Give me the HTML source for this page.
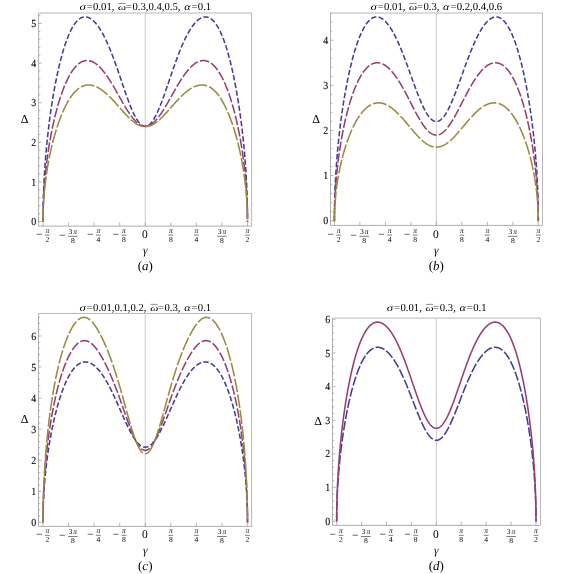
<!DOCTYPE html>
<html><head><meta charset="utf-8"><title>Figure</title>
<style>
html,body{margin:0;padding:0;background:#fff;}
svg{display:block;font-family:"Liberation Serif",serif;fill:#000;will-change:transform;text-rendering:geometricPrecision;}
text{stroke:none;} .tk{stroke:#000;stroke-width:0.1px;}
</style></head><body>
<svg width="564" height="574" viewBox="0 0 564 574">
<rect width="564" height="574" fill="#fff"/>
<path d="M38.6,13.0 H251.6 V226.1" fill="none" stroke="#b8b8b8" stroke-width="1"/>
<line x1="145.25" y1="13.0" x2="145.25" y2="226.1" stroke="#bfbfbf" stroke-width="0.8"/>
<path d="M38.6,13.0 V226.1 H251.6" fill="none" stroke="#aeaeae" stroke-width="1"/>
<text transform="translate(36.30,225.25) scale(0.9,1)" class="tk" font-size="11.0" text-anchor="end">0</text>
<text transform="translate(36.30,185.62) scale(0.9,1)" class="tk" font-size="11.0" text-anchor="end">1</text>
<text transform="translate(36.30,145.99) scale(0.9,1)" class="tk" font-size="11.0" text-anchor="end">2</text>
<text transform="translate(36.30,106.36) scale(0.9,1)" class="tk" font-size="11.0" text-anchor="end">3</text>
<text transform="translate(36.30,66.73) scale(0.9,1)" class="tk" font-size="11.0" text-anchor="end">4</text>
<text transform="translate(36.30,27.10) scale(0.9,1)" class="tk" font-size="11.0" text-anchor="end">5</text>
<path d="M38.6,221.60h3.1 M38.6,213.67h1.8 M38.6,205.75h1.8 M38.6,197.82h1.8 M38.6,189.90h1.8 M38.6,181.97h3.1 M38.6,174.04h1.8 M38.6,166.12h1.8 M38.6,158.19h1.8 M38.6,150.27h1.8 M38.6,142.34h3.1 M38.6,134.41h1.8 M38.6,126.49h1.8 M38.6,118.56h1.8 M38.6,110.64h1.8 M38.6,102.71h3.1 M38.6,94.78h1.8 M38.6,86.86h1.8 M38.6,78.93h1.8 M38.6,71.01h1.8 M38.6,63.08h3.1 M38.6,55.15h1.8 M38.6,47.23h1.8 M38.6,39.30h1.8 M38.6,31.38h1.8 M38.6,23.45h3.1 M38.6,15.52h1.8 M43.01,226.1v-3.6 M68.57,226.1v-3.6 M94.13,226.1v-3.6 M119.69,226.1v-3.6 M145.25,226.1v-3.6 M170.81,226.1v-3.6 M196.37,226.1v-3.6 M221.93,226.1v-3.6 M247.49,226.1v-3.6" fill="none" stroke="#9a9a9a" stroke-width="0.7"/>
<text x="35.88" y="237.55" font-size="11.6">−</text>
<line x1="44.93" y1="235.10" x2="49.68" y2="235.10" stroke="#222" stroke-width="0.6"/>
<text x="47.31" y="232.90" font-size="7.6" text-anchor="middle" font-style="italic">π</text>
<text x="47.31" y="242.00" font-size="7.6" text-anchor="middle">2</text>
<text x="59.04" y="238.75" font-size="11.6">−</text>
<line x1="68.09" y1="236.30" x2="77.64" y2="236.30" stroke="#222" stroke-width="0.6"/>
<text x="72.87" y="234.10" font-size="7.6" text-anchor="middle">3<tspan dx="1.0" font-style="italic">π</tspan></text>
<text x="72.87" y="243.20" font-size="7.6" text-anchor="middle">8</text>
<text x="87.00" y="237.55" font-size="11.6">−</text>
<line x1="96.05" y1="235.10" x2="100.80" y2="235.10" stroke="#222" stroke-width="0.6"/>
<text x="98.43" y="232.90" font-size="7.6" text-anchor="middle" font-style="italic">π</text>
<text x="98.43" y="242.00" font-size="7.6" text-anchor="middle">4</text>
<text x="112.56" y="237.55" font-size="11.6">−</text>
<line x1="121.61" y1="235.10" x2="126.37" y2="235.10" stroke="#222" stroke-width="0.6"/>
<text x="123.99" y="232.90" font-size="7.6" text-anchor="middle" font-style="italic">π</text>
<text x="123.99" y="242.00" font-size="7.6" text-anchor="middle">8</text>
<text x="144.85" y="237.70" font-size="11.5" text-anchor="middle">0</text>
<line x1="168.43" y1="235.10" x2="173.19" y2="235.10" stroke="#222" stroke-width="0.6"/>
<text x="170.81" y="232.90" font-size="7.6" text-anchor="middle" font-style="italic">π</text>
<text x="170.81" y="242.00" font-size="7.6" text-anchor="middle">8</text>
<line x1="194.00" y1="235.10" x2="198.75" y2="235.10" stroke="#222" stroke-width="0.6"/>
<text x="196.37" y="232.90" font-size="7.6" text-anchor="middle" font-style="italic">π</text>
<text x="196.37" y="242.00" font-size="7.6" text-anchor="middle">4</text>
<line x1="217.16" y1="236.30" x2="226.71" y2="236.30" stroke="#222" stroke-width="0.6"/>
<text x="221.93" y="234.10" font-size="7.6" text-anchor="middle">3<tspan dx="1.0" font-style="italic">π</tspan></text>
<text x="221.93" y="243.20" font-size="7.6" text-anchor="middle">8</text>
<line x1="245.12" y1="235.10" x2="249.87" y2="235.10" stroke="#222" stroke-width="0.6"/>
<text x="247.49" y="232.90" font-size="7.6" text-anchor="middle" font-style="italic">π</text>
<text x="247.49" y="242.00" font-size="7.6" text-anchor="middle">2</text>
<polyline points="43.01,222.10 43.01,220.81 43.01,219.53 43.02,218.24 43.02,216.95 43.03,215.67 43.04,214.38 43.06,213.09 43.07,211.81 43.09,210.52 43.11,209.24 43.13,207.95 43.16,206.66 43.18,205.38 43.21,204.09 43.24,202.81 43.27,201.52 43.31,200.23 43.34,198.95 43.38,197.66 43.42,196.38 43.46,195.09 43.51,193.81 43.55,192.52 43.60,191.24 43.65,189.95 43.70,188.67 43.76,187.39 43.82,186.10 43.87,184.82 43.93,183.54 44.00,182.25 44.06,180.97 44.13,179.69 44.20,178.41 44.27,177.13 44.34,175.84 44.42,174.56 44.49,173.28 44.57,172.00 44.65,170.72 44.74,169.44 44.82,168.17 44.91,166.89 45.00,165.61 45.09,164.33 45.18,163.06 45.28,161.78 45.38,160.50 45.48,159.23 45.58,157.96 45.68,156.68 45.79,155.41 45.89,154.14 46.00,152.87 46.11,151.60 46.23,150.33 46.34,149.06 46.46,147.79 46.58,146.52 46.70,145.26 46.83,143.99 46.95,142.73 47.08,141.47 47.21,140.21 47.34,138.95 47.47,137.69 47.61,136.43 47.74,135.17 47.88,133.92 48.03,132.66 48.17,131.41 48.31,130.16 48.46,128.91 48.61,127.66 48.76,126.42 48.91,125.17 49.07,123.93 49.23,122.69 49.38,121.45 49.54,120.22 49.71,118.98 49.87,117.75 50.04,116.52 50.21,115.29 50.38,114.07 50.55,112.84 50.72,111.62 50.90,110.40 51.08,109.19 51.26,107.97 51.44,106.76 51.62,105.55 51.81,104.35 52.00,103.15 52.19,101.95 52.38,100.75 52.57,99.56 52.77,98.37 52.96,97.19 53.16,96.00 53.36,94.82 53.56,93.65 53.77,92.48 53.97,91.31 54.18,90.15 54.39,88.99 54.60,87.83 54.82,86.68 55.03,85.53 55.25,84.39 55.47,83.25 55.69,82.12 55.91,80.99 56.14,79.87 56.36,78.75 56.59,77.64 56.82,76.53 57.05,75.43 57.28,74.33 57.52,73.24 57.76,72.16 58.00,71.08 58.24,70.01 58.48,68.94 58.72,67.88 58.97,66.83 59.22,65.78 59.46,64.74 59.72,63.71 59.97,62.68 60.22,61.66 60.48,60.65 60.74,59.65 61.00,58.65 61.26,57.66 61.52,56.68 61.78,55.71 62.05,54.74 62.32,53.79 62.59,52.84 62.86,51.90 63.13,50.97 63.41,50.05 63.68,49.14 63.96,48.24 64.24,47.35 64.52,46.47 64.80,45.60 65.09,44.73 65.37,43.88 65.66,43.04 65.95,42.21 66.24,41.39 66.53,40.58 66.83,39.78 67.12,39.00 67.42,38.22 67.72,37.46 68.02,36.70 68.32,35.96 68.63,35.23 68.93,34.52 69.24,33.81 69.55,33.12 69.86,32.44 70.17,31.78 70.48,31.12 70.79,30.48 71.11,29.86 71.43,29.24 71.75,28.64 72.07,28.06 72.39,27.49 72.71,26.93 73.03,26.38 73.36,25.85 73.69,25.34 74.02,24.83 74.35,24.35 74.68,23.87 75.01,23.42 75.35,22.97 75.68,22.54 76.02,22.13 76.36,21.73 76.70,21.35 77.04,20.98 77.38,20.63 77.73,20.29 78.07,19.97 78.42,19.67 78.77,19.38 79.12,19.10 79.47,18.85 79.82,18.60 80.18,18.38 80.53,18.17 80.89,17.97 81.25,17.80 81.61,17.63 81.97,17.49 82.33,17.36 82.69,17.24 83.05,17.15 83.42,17.07 83.79,17.00 84.15,16.96 84.52,16.92 84.89,16.91 85.26,16.91 85.64,16.93 86.01,16.96 86.39,17.01 86.76,17.08 87.14,17.17 87.52,17.27 87.90,17.38 88.28,17.52 88.66,17.67 89.05,17.84 89.43,18.02 89.82,18.22 90.20,18.44 90.59,18.67 90.98,18.92 91.37,19.19 91.76,19.47 92.15,19.78 92.54,20.09 92.94,20.43 93.33,20.78 93.73,21.15 94.13,21.54 94.53,21.94 94.93,22.36 95.33,22.80 95.73,23.25 96.13,23.72 96.53,24.21 96.94,24.72 97.34,25.24 97.75,25.78 98.16,26.34 98.57,26.92 98.98,27.51 99.39,28.12 99.80,28.75 100.21,29.39 100.62,30.06 101.04,30.74 101.45,31.44 101.87,32.15 102.28,32.89 102.70,33.64 103.12,34.41 103.54,35.19 103.96,36.00 104.38,36.82 104.80,37.66 105.22,38.52 105.65,39.39 106.07,40.29 106.50,41.20 106.92,42.12 107.35,43.07 107.77,44.03 108.20,45.01 108.63,46.00 109.06,47.01 109.49,48.04 109.92,49.09 110.35,50.15 110.79,51.22 111.22,52.31 111.65,53.42 112.09,54.54 112.52,55.68 112.96,56.83 113.39,57.99 113.83,59.17 114.27,60.36 114.71,61.56 115.14,62.78 115.58,64.00 116.02,65.24 116.46,66.48 116.91,67.74 117.35,69.01 117.79,70.28 118.23,71.56 118.68,72.85 119.12,74.15 119.57,75.45 120.01,76.75 120.46,78.06 120.90,79.37 121.35,80.69 121.80,82.00 122.24,83.32 122.69,84.64 123.14,85.95 123.59,87.26 124.04,88.57 124.49,89.87 124.94,91.17 125.39,92.46 125.84,93.74 126.29,95.01 126.74,96.28 127.19,97.53 127.65,98.77 128.10,100.00 128.55,101.21 129.01,102.41 129.46,103.58 129.91,104.75 130.37,105.89 130.82,107.01 131.28,108.11 131.73,109.19 132.19,110.24 132.65,111.27 133.10,112.28 133.56,113.25 134.01,114.20 134.47,115.12 134.93,116.01 135.39,116.87 135.84,117.70 136.30,118.49 136.76,119.25 137.22,119.98 137.67,120.67 138.13,121.32 138.59,121.94 139.05,122.52 139.51,123.06 139.97,123.56 140.43,124.02 140.89,124.45 141.35,124.83 141.80,125.17 142.26,125.46 142.72,125.72 143.18,125.94 143.64,126.11 144.10,126.24 144.56,126.32 145.02,126.36 145.48,126.36 145.94,126.32 146.40,126.24 146.86,126.11 147.32,125.94 147.78,125.72 148.24,125.46 148.70,125.17 149.15,124.83 149.61,124.45 150.07,124.02 150.53,123.56 150.99,123.06 151.45,122.52 151.91,121.94 152.37,121.32 152.83,120.67 153.28,119.98 153.74,119.25 154.20,118.49 154.66,117.70 155.11,116.87 155.57,116.01 156.03,115.12 156.49,114.20 156.94,113.25 157.40,112.28 157.85,111.27 158.31,110.24 158.77,109.19 159.22,108.11 159.68,107.01 160.13,105.89 160.59,104.75 161.04,103.58 161.49,102.41 161.95,101.21 162.40,100.00 162.85,98.77 163.31,97.53 163.76,96.28 164.21,95.01 164.66,93.74 165.11,92.46 165.56,91.17 166.01,89.87 166.46,88.57 166.91,87.26 167.36,85.95 167.81,84.64 168.26,83.32 168.70,82.00 169.15,80.69 169.60,79.37 170.04,78.06 170.49,76.75 170.93,75.45 171.38,74.15 171.82,72.85 172.27,71.56 172.71,70.28 173.15,69.01 173.59,67.74 174.04,66.48 174.48,65.24 174.92,64.00 175.36,62.78 175.79,61.56 176.23,60.36 176.67,59.17 177.11,57.99 177.54,56.83 177.98,55.68 178.41,54.54 178.85,53.42 179.28,52.31 179.71,51.22 180.15,50.15 180.58,49.09 181.01,48.04 181.44,47.01 181.87,46.00 182.30,45.01 182.73,44.03 183.15,43.07 183.58,42.12 184.00,41.20 184.43,40.29 184.85,39.39 185.28,38.52 185.70,37.66 186.12,36.82 186.54,36.00 186.96,35.19 187.38,34.41 187.80,33.64 188.22,32.89 188.63,32.15 189.05,31.44 189.46,30.74 189.88,30.06 190.29,29.39 190.70,28.75 191.11,28.12 191.52,27.51 191.93,26.92 192.34,26.34 192.75,25.78 193.16,25.24 193.56,24.72 193.97,24.21 194.37,23.72 194.77,23.25 195.17,22.80 195.57,22.36 195.97,21.94 196.37,21.54 196.77,21.15 197.17,20.78 197.56,20.43 197.96,20.09 198.35,19.78 198.74,19.47 199.13,19.19 199.52,18.92 199.91,18.67 200.30,18.44 200.68,18.22 201.07,18.02 201.45,17.84 201.84,17.67 202.22,17.52 202.60,17.38 202.98,17.27 203.36,17.17 203.74,17.08 204.11,17.01 204.49,16.96 204.86,16.93 205.24,16.91 205.61,16.91 205.98,16.92 206.35,16.96 206.71,17.00 207.08,17.07 207.45,17.15 207.81,17.24 208.17,17.36 208.53,17.49 208.89,17.63 209.25,17.80 209.61,17.97 209.97,18.17 210.32,18.38 210.68,18.60 211.03,18.85 211.38,19.10 211.73,19.38 212.08,19.67 212.43,19.97 212.77,20.29 213.12,20.63 213.46,20.98 213.80,21.35 214.14,21.73 214.48,22.13 214.82,22.54 215.15,22.97 215.49,23.42 215.82,23.87 216.15,24.35 216.48,24.83 216.81,25.34 217.14,25.85 217.47,26.38 217.79,26.93 218.11,27.49 218.43,28.06 218.75,28.64 219.07,29.24 219.39,29.86 219.71,30.48 220.02,31.12 220.33,31.78 220.64,32.44 220.95,33.12 221.26,33.81 221.57,34.52 221.87,35.23 222.18,35.96 222.48,36.70 222.78,37.46 223.08,38.22 223.38,39.00 223.67,39.78 223.97,40.58 224.26,41.39 224.55,42.21 224.84,43.04 225.13,43.88 225.41,44.73 225.70,45.60 225.98,46.47 226.26,47.35 226.54,48.24 226.82,49.14 227.09,50.05 227.37,50.97 227.64,51.90 227.91,52.84 228.18,53.79 228.45,54.74 228.72,55.71 228.98,56.68 229.24,57.66 229.50,58.65 229.76,59.65 230.02,60.65 230.28,61.66 230.53,62.68 230.78,63.71 231.04,64.74 231.28,65.78 231.53,66.83 231.78,67.88 232.02,68.94 232.26,70.01 232.50,71.08 232.74,72.16 232.98,73.24 233.22,74.33 233.45,75.43 233.68,76.53 233.91,77.64 234.14,78.75 234.36,79.87 234.59,80.99 234.81,82.12 235.03,83.25 235.25,84.39 235.47,85.53 235.68,86.68 235.90,87.83 236.11,88.99 236.32,90.15 236.53,91.31 236.73,92.48 236.94,93.65 237.14,94.82 237.34,96.00 237.54,97.19 237.73,98.37 237.93,99.56 238.12,100.75 238.31,101.95 238.50,103.15 238.69,104.35 238.88,105.55 239.06,106.76 239.24,107.97 239.42,109.19 239.60,110.40 239.78,111.62 239.95,112.84 240.12,114.07 240.29,115.29 240.46,116.52 240.63,117.75 240.79,118.98 240.96,120.22 241.12,121.45 241.27,122.69 241.43,123.93 241.59,125.17 241.74,126.42 241.89,127.66 242.04,128.91 242.19,130.16 242.33,131.41 242.47,132.66 242.62,133.92 242.76,135.17 242.89,136.43 243.03,137.69 243.16,138.95 243.29,140.21 243.42,141.47 243.55,142.73 243.67,143.99 243.80,145.26 243.92,146.52 244.04,147.79 244.16,149.06 244.27,150.33 244.39,151.60 244.50,152.87 244.61,154.14 244.71,155.41 244.82,156.68 244.92,157.96 245.02,159.23 245.12,160.50 245.22,161.78 245.32,163.06 245.41,164.33 245.50,165.61 245.59,166.89 245.68,168.17 245.76,169.44 245.85,170.72 245.93,172.00 246.01,173.28 246.08,174.56 246.16,175.84 246.23,177.13 246.30,178.41 246.37,179.69 246.44,180.97 246.50,182.25 246.57,183.54 246.63,184.82 246.68,186.10 246.74,187.39 246.80,188.67 246.85,189.95 246.90,191.24 246.95,192.52 246.99,193.81 247.04,195.09 247.08,196.38 247.12,197.66 247.16,198.95 247.19,200.23 247.23,201.52 247.26,202.81 247.29,204.09 247.32,205.38 247.34,206.66 247.37,207.95 247.39,209.24 247.41,210.52 247.43,211.81 247.44,213.09 247.46,214.38 247.47,215.67 247.48,216.95 247.48,218.24 247.49,219.53 247.49,220.81 247.49,222.10" fill="none" stroke="#3f3d99" stroke-width="1.55" stroke-dasharray="5.4 2.33" stroke-linejoin="round"/>
<polyline points="43.01,222.10 43.01,221.10 43.01,220.10 43.02,219.10 43.02,218.10 43.03,217.11 43.04,216.11 43.06,215.11 43.07,214.11 43.09,213.11 43.11,212.11 43.13,211.11 43.16,210.11 43.18,209.11 43.21,208.12 43.24,207.12 43.27,206.12 43.31,205.12 43.34,204.12 43.38,203.12 43.42,202.13 43.46,201.13 43.51,200.13 43.55,199.13 43.60,198.14 43.65,197.14 43.70,196.14 43.76,195.14 43.82,194.15 43.87,193.15 43.93,192.16 44.00,191.16 44.06,190.16 44.13,189.17 44.20,188.17 44.27,187.18 44.34,186.18 44.42,185.19 44.49,184.19 44.57,183.20 44.65,182.21 44.74,181.21 44.82,180.22 44.91,179.23 45.00,178.24 45.09,177.24 45.18,176.25 45.28,175.26 45.38,174.27 45.48,173.28 45.58,172.29 45.68,171.31 45.79,170.32 45.89,169.33 46.00,168.35 46.11,167.36 46.23,166.37 46.34,165.39 46.46,164.41 46.58,163.42 46.70,162.44 46.83,161.46 46.95,160.48 47.08,159.50 47.21,158.52 47.34,157.54 47.47,156.57 47.61,155.59 47.74,154.62 47.88,153.65 48.03,152.67 48.17,151.70 48.31,150.73 48.46,149.77 48.61,148.80 48.76,147.83 48.91,146.87 49.07,145.91 49.23,144.95 49.38,143.99 49.54,143.03 49.71,142.07 49.87,141.12 50.04,140.17 50.21,139.21 50.38,138.27 50.55,137.32 50.72,136.37 50.90,135.43 51.08,134.49 51.26,133.55 51.44,132.61 51.62,131.68 51.81,130.75 52.00,129.82 52.19,128.89 52.38,127.97 52.57,127.05 52.77,126.13 52.96,125.21 53.16,124.30 53.36,123.39 53.56,122.48 53.77,121.57 53.97,120.67 54.18,119.77 54.39,118.88 54.60,117.98 54.82,117.10 55.03,116.21 55.25,115.33 55.47,114.45 55.69,113.58 55.91,112.71 56.14,111.84 56.36,110.98 56.59,110.12 56.82,109.26 57.05,108.41 57.28,107.57 57.52,106.72 57.76,105.89 58.00,105.05 58.24,104.23 58.48,103.40 58.72,102.58 58.97,101.77 59.22,100.96 59.46,100.16 59.72,99.36 59.97,98.57 60.22,97.78 60.48,97.00 60.74,96.22 61.00,95.45 61.26,94.68 61.52,93.92 61.78,93.17 62.05,92.42 62.32,91.68 62.59,90.94 62.86,90.21 63.13,89.49 63.41,88.78 63.68,88.07 63.96,87.36 64.24,86.67 64.52,85.98 64.80,85.30 65.09,84.62 65.37,83.95 65.66,83.29 65.95,82.64 66.24,82.00 66.53,81.36 66.83,80.73 67.12,80.11 67.42,79.49 67.72,78.89 68.02,78.29 68.32,77.70 68.63,77.12 68.93,76.54 69.24,75.98 69.55,75.42 69.86,74.87 70.17,74.34 70.48,73.81 70.79,73.29 71.11,72.77 71.43,72.27 71.75,71.78 72.07,71.29 72.39,70.82 72.71,70.36 73.03,69.90 73.36,69.46 73.69,69.02 74.02,68.59 74.35,68.18 74.68,67.77 75.01,67.38 75.35,66.99 75.68,66.62 76.02,66.25 76.36,65.90 76.70,65.56 77.04,65.22 77.38,64.90 77.73,64.59 78.07,64.29 78.42,64.00 78.77,63.72 79.12,63.46 79.47,63.20 79.82,62.96 80.18,62.73 80.53,62.50 80.89,62.29 81.25,62.10 81.61,61.91 81.97,61.73 82.33,61.57 82.69,61.42 83.05,61.28 83.42,61.15 83.79,61.04 84.15,60.93 84.52,60.84 84.89,60.76 85.26,60.70 85.64,60.64 86.01,60.60 86.39,60.57 86.76,60.55 87.14,60.55 87.52,60.56 87.90,60.58 88.28,60.61 88.66,60.66 89.05,60.71 89.43,60.79 89.82,60.87 90.20,60.97 90.59,61.08 90.98,61.20 91.37,61.33 91.76,61.48 92.15,61.64 92.54,61.82 92.94,62.01 93.33,62.21 93.73,62.42 94.13,62.65 94.53,62.89 94.93,63.14 95.33,63.40 95.73,63.68 96.13,63.97 96.53,64.28 96.94,64.59 97.34,64.92 97.75,65.27 98.16,65.62 98.57,65.99 98.98,66.37 99.39,66.77 99.80,67.18 100.21,67.60 100.62,68.03 101.04,68.47 101.45,68.93 101.87,69.40 102.28,69.88 102.70,70.38 103.12,70.88 103.54,71.40 103.96,71.93 104.38,72.47 104.80,73.02 105.22,73.59 105.65,74.16 106.07,74.75 106.50,75.35 106.92,75.96 107.35,76.57 107.77,77.20 108.20,77.84 108.63,78.49 109.06,79.15 109.49,79.82 109.92,80.49 110.35,81.18 110.79,81.87 111.22,82.58 111.65,83.29 112.09,84.00 112.52,84.73 112.96,85.46 113.39,86.20 113.83,86.95 114.27,87.70 114.71,88.46 115.14,89.22 115.58,89.99 116.02,90.76 116.46,91.53 116.91,92.31 117.35,93.09 117.79,93.88 118.23,94.67 118.68,95.45 119.12,96.24 119.57,97.04 120.01,97.83 120.46,98.62 120.90,99.41 121.35,100.20 121.80,100.98 122.24,101.77 122.69,102.55 123.14,103.33 123.59,104.10 124.04,104.87 124.49,105.64 124.94,106.40 125.39,107.15 125.84,107.89 126.29,108.63 126.74,109.36 127.19,110.09 127.65,110.80 128.10,111.50 128.55,112.19 129.01,112.88 129.46,113.55 129.91,114.21 130.37,114.85 130.82,115.49 131.28,116.11 131.73,116.71 132.19,117.30 132.65,117.88 133.10,118.44 133.56,118.99 134.01,119.51 134.47,120.02 134.93,120.52 135.39,120.99 135.84,121.45 136.30,121.89 136.76,122.31 137.22,122.70 137.67,123.08 138.13,123.44 138.59,123.78 139.05,124.10 139.51,124.39 139.97,124.67 140.43,124.92 140.89,125.15 141.35,125.36 141.80,125.54 142.26,125.70 142.72,125.84 143.18,125.96 143.64,126.05 144.10,126.12 144.56,126.17 145.02,126.19 145.48,126.19 145.94,126.17 146.40,126.12 146.86,126.05 147.32,125.96 147.78,125.84 148.24,125.70 148.70,125.54 149.15,125.36 149.61,125.15 150.07,124.92 150.53,124.67 150.99,124.39 151.45,124.10 151.91,123.78 152.37,123.44 152.83,123.08 153.28,122.70 153.74,122.31 154.20,121.89 154.66,121.45 155.11,120.99 155.57,120.52 156.03,120.02 156.49,119.51 156.94,118.99 157.40,118.44 157.85,117.88 158.31,117.30 158.77,116.71 159.22,116.11 159.68,115.49 160.13,114.85 160.59,114.21 161.04,113.55 161.49,112.88 161.95,112.19 162.40,111.50 162.85,110.80 163.31,110.09 163.76,109.36 164.21,108.63 164.66,107.89 165.11,107.15 165.56,106.40 166.01,105.64 166.46,104.87 166.91,104.10 167.36,103.33 167.81,102.55 168.26,101.77 168.70,100.98 169.15,100.20 169.60,99.41 170.04,98.62 170.49,97.83 170.93,97.04 171.38,96.24 171.82,95.45 172.27,94.67 172.71,93.88 173.15,93.09 173.59,92.31 174.04,91.53 174.48,90.76 174.92,89.99 175.36,89.22 175.79,88.46 176.23,87.70 176.67,86.95 177.11,86.20 177.54,85.46 177.98,84.73 178.41,84.00 178.85,83.29 179.28,82.58 179.71,81.87 180.15,81.18 180.58,80.49 181.01,79.82 181.44,79.15 181.87,78.49 182.30,77.84 182.73,77.20 183.15,76.57 183.58,75.96 184.00,75.35 184.43,74.75 184.85,74.16 185.28,73.59 185.70,73.02 186.12,72.47 186.54,71.93 186.96,71.40 187.38,70.88 187.80,70.38 188.22,69.88 188.63,69.40 189.05,68.93 189.46,68.47 189.88,68.03 190.29,67.60 190.70,67.18 191.11,66.77 191.52,66.37 191.93,65.99 192.34,65.62 192.75,65.27 193.16,64.92 193.56,64.59 193.97,64.28 194.37,63.97 194.77,63.68 195.17,63.40 195.57,63.14 195.97,62.89 196.37,62.65 196.77,62.42 197.17,62.21 197.56,62.01 197.96,61.82 198.35,61.64 198.74,61.48 199.13,61.33 199.52,61.20 199.91,61.08 200.30,60.97 200.68,60.87 201.07,60.79 201.45,60.71 201.84,60.66 202.22,60.61 202.60,60.58 202.98,60.56 203.36,60.55 203.74,60.55 204.11,60.57 204.49,60.60 204.86,60.64 205.24,60.70 205.61,60.76 205.98,60.84 206.35,60.93 206.71,61.04 207.08,61.15 207.45,61.28 207.81,61.42 208.17,61.57 208.53,61.73 208.89,61.91 209.25,62.10 209.61,62.29 209.97,62.50 210.32,62.73 210.68,62.96 211.03,63.20 211.38,63.46 211.73,63.72 212.08,64.00 212.43,64.29 212.77,64.59 213.12,64.90 213.46,65.22 213.80,65.56 214.14,65.90 214.48,66.25 214.82,66.62 215.15,66.99 215.49,67.38 215.82,67.77 216.15,68.18 216.48,68.59 216.81,69.02 217.14,69.46 217.47,69.90 217.79,70.36 218.11,70.82 218.43,71.29 218.75,71.78 219.07,72.27 219.39,72.77 219.71,73.29 220.02,73.81 220.33,74.34 220.64,74.87 220.95,75.42 221.26,75.98 221.57,76.54 221.87,77.12 222.18,77.70 222.48,78.29 222.78,78.89 223.08,79.49 223.38,80.11 223.67,80.73 223.97,81.36 224.26,82.00 224.55,82.64 224.84,83.29 225.13,83.95 225.41,84.62 225.70,85.30 225.98,85.98 226.26,86.67 226.54,87.36 226.82,88.07 227.09,88.78 227.37,89.49 227.64,90.21 227.91,90.94 228.18,91.68 228.45,92.42 228.72,93.17 228.98,93.92 229.24,94.68 229.50,95.45 229.76,96.22 230.02,97.00 230.28,97.78 230.53,98.57 230.78,99.36 231.04,100.16 231.28,100.96 231.53,101.77 231.78,102.58 232.02,103.40 232.26,104.23 232.50,105.05 232.74,105.89 232.98,106.72 233.22,107.57 233.45,108.41 233.68,109.26 233.91,110.12 234.14,110.98 234.36,111.84 234.59,112.71 234.81,113.58 235.03,114.45 235.25,115.33 235.47,116.21 235.68,117.10 235.90,117.98 236.11,118.88 236.32,119.77 236.53,120.67 236.73,121.57 236.94,122.48 237.14,123.39 237.34,124.30 237.54,125.21 237.73,126.13 237.93,127.05 238.12,127.97 238.31,128.89 238.50,129.82 238.69,130.75 238.88,131.68 239.06,132.61 239.24,133.55 239.42,134.49 239.60,135.43 239.78,136.37 239.95,137.32 240.12,138.27 240.29,139.21 240.46,140.17 240.63,141.12 240.79,142.07 240.96,143.03 241.12,143.99 241.27,144.95 241.43,145.91 241.59,146.87 241.74,147.83 241.89,148.80 242.04,149.77 242.19,150.73 242.33,151.70 242.47,152.67 242.62,153.65 242.76,154.62 242.89,155.59 243.03,156.57 243.16,157.54 243.29,158.52 243.42,159.50 243.55,160.48 243.67,161.46 243.80,162.44 243.92,163.42 244.04,164.41 244.16,165.39 244.27,166.37 244.39,167.36 244.50,168.35 244.61,169.33 244.71,170.32 244.82,171.31 244.92,172.29 245.02,173.28 245.12,174.27 245.22,175.26 245.32,176.25 245.41,177.24 245.50,178.24 245.59,179.23 245.68,180.22 245.76,181.21 245.85,182.21 245.93,183.20 246.01,184.19 246.08,185.19 246.16,186.18 246.23,187.18 246.30,188.17 246.37,189.17 246.44,190.16 246.50,191.16 246.57,192.16 246.63,193.15 246.68,194.15 246.74,195.14 246.80,196.14 246.85,197.14 246.90,198.14 246.95,199.13 246.99,200.13 247.04,201.13 247.08,202.13 247.12,203.12 247.16,204.12 247.19,205.12 247.23,206.12 247.26,207.12 247.29,208.12 247.32,209.11 247.34,210.11 247.37,211.11 247.39,212.11 247.41,213.11 247.43,214.11 247.44,215.11 247.46,216.11 247.47,217.11 247.48,218.10 247.48,219.10 247.49,220.10 247.49,221.10 247.49,222.10" fill="none" stroke="#993d71" stroke-width="1.55" stroke-dasharray="9.5 2.25" stroke-linejoin="round"/>
<polyline points="43.01,222.10 43.01,221.27 43.01,220.44 43.02,219.61 43.02,218.79 43.03,217.96 43.04,217.13 43.06,216.30 43.07,215.47 43.09,214.64 43.11,213.81 43.13,212.98 43.16,212.16 43.18,211.33 43.21,210.50 43.24,209.67 43.27,208.84 43.31,208.01 43.34,207.19 43.38,206.36 43.42,205.53 43.46,204.70 43.51,203.88 43.55,203.05 43.60,202.22 43.65,201.39 43.70,200.57 43.76,199.74 43.82,198.91 43.87,198.09 43.93,197.26 44.00,196.43 44.06,195.61 44.13,194.78 44.20,193.95 44.27,193.13 44.34,192.30 44.42,191.48 44.49,190.65 44.57,189.83 44.65,189.00 44.74,188.18 44.82,187.36 44.91,186.53 45.00,185.71 45.09,184.89 45.18,184.06 45.28,183.24 45.38,182.42 45.48,181.60 45.58,180.78 45.68,179.96 45.79,179.14 45.89,178.32 46.00,177.50 46.11,176.68 46.23,175.86 46.34,175.04 46.46,174.22 46.58,173.41 46.70,172.59 46.83,171.78 46.95,170.96 47.08,170.15 47.21,169.33 47.34,168.52 47.47,167.71 47.61,166.90 47.74,166.09 47.88,165.28 48.03,164.47 48.17,163.66 48.31,162.85 48.46,162.05 48.61,161.24 48.76,160.44 48.91,159.63 49.07,158.83 49.23,158.03 49.38,157.23 49.54,156.43 49.71,155.63 49.87,154.84 50.04,154.04 50.21,153.25 50.38,152.46 50.55,151.66 50.72,150.87 50.90,150.09 51.08,149.30 51.26,148.51 51.44,147.73 51.62,146.95 51.81,146.17 52.00,145.39 52.19,144.61 52.38,143.84 52.57,143.06 52.77,142.29 52.96,141.52 53.16,140.75 53.36,139.99 53.56,139.23 53.77,138.46 53.97,137.71 54.18,136.95 54.39,136.19 54.60,135.44 54.82,134.69 55.03,133.95 55.25,133.20 55.47,132.46 55.69,131.72 55.91,130.98 56.14,130.25 56.36,129.52 56.59,128.79 56.82,128.07 57.05,127.35 57.28,126.63 57.52,125.91 57.76,125.20 58.00,124.49 58.24,123.79 58.48,123.08 58.72,122.39 58.97,121.69 59.22,121.00 59.46,120.32 59.72,119.63 59.97,118.95 60.22,118.28 60.48,117.61 60.74,116.94 61.00,116.28 61.26,115.62 61.52,114.97 61.78,114.32 62.05,113.68 62.32,113.04 62.59,112.41 62.86,111.78 63.13,111.15 63.41,110.54 63.68,109.92 63.96,109.31 64.24,108.71 64.52,108.11 64.80,107.52 65.09,106.94 65.37,106.36 65.66,105.78 65.95,105.21 66.24,104.65 66.53,104.09 66.83,103.55 67.12,103.00 67.42,102.46 67.72,101.93 68.02,101.41 68.32,100.89 68.63,100.38 68.93,99.88 69.24,99.38 69.55,98.89 69.86,98.41 70.17,97.94 70.48,97.47 70.79,97.01 71.11,96.56 71.43,96.11 71.75,95.67 72.07,95.24 72.39,94.82 72.71,94.41 73.03,94.00 73.36,93.61 73.69,93.22 74.02,92.83 74.35,92.46 74.68,92.10 75.01,91.74 75.35,91.39 75.68,91.06 76.02,90.73 76.36,90.40 76.70,90.09 77.04,89.79 77.38,89.49 77.73,89.21 78.07,88.93 78.42,88.66 78.77,88.41 79.12,88.16 79.47,87.92 79.82,87.69 80.18,87.46 80.53,87.25 80.89,87.05 81.25,86.86 81.61,86.67 81.97,86.50 82.33,86.33 82.69,86.18 83.05,86.03 83.42,85.89 83.79,85.77 84.15,85.65 84.52,85.54 84.89,85.44 85.26,85.36 85.64,85.28 86.01,85.21 86.39,85.15 86.76,85.10 87.14,85.06 87.52,85.03 87.90,85.00 88.28,84.99 88.66,84.99 89.05,85.00 89.43,85.01 89.82,85.04 90.20,85.08 90.59,85.12 90.98,85.17 91.37,85.24 91.76,85.31 92.15,85.39 92.54,85.49 92.94,85.59 93.33,85.70 93.73,85.82 94.13,85.94 94.53,86.08 94.93,86.23 95.33,86.38 95.73,86.55 96.13,86.72 96.53,86.90 96.94,87.10 97.34,87.30 97.75,87.50 98.16,87.72 98.57,87.95 98.98,88.18 99.39,88.42 99.80,88.68 100.21,88.94 100.62,89.20 101.04,89.48 101.45,89.76 101.87,90.06 102.28,90.36 102.70,90.67 103.12,90.98 103.54,91.31 103.96,91.64 104.38,91.98 104.80,92.32 105.22,92.68 105.65,93.04 106.07,93.41 106.50,93.78 106.92,94.17 107.35,94.56 107.77,94.95 108.20,95.35 108.63,95.76 109.06,96.18 109.49,96.60 109.92,97.03 110.35,97.46 110.79,97.90 111.22,98.34 111.65,98.79 112.09,99.25 112.52,99.71 112.96,100.17 113.39,100.64 113.83,101.12 114.27,101.59 114.71,102.08 115.14,102.56 115.58,103.05 116.02,103.54 116.46,104.04 116.91,104.53 117.35,105.03 117.79,105.54 118.23,106.04 118.68,106.55 119.12,107.05 119.57,107.56 120.01,108.07 120.46,108.58 120.90,109.09 121.35,109.59 121.80,110.10 122.24,110.61 122.69,111.11 123.14,111.62 123.59,112.12 124.04,112.62 124.49,113.11 124.94,113.61 125.39,114.10 125.84,114.58 126.29,115.06 126.74,115.54 127.19,116.01 127.65,116.48 128.10,116.94 128.55,117.39 129.01,117.84 129.46,118.28 129.91,118.71 130.37,119.13 130.82,119.55 131.28,119.96 131.73,120.36 132.19,120.75 132.65,121.13 133.10,121.50 133.56,121.86 134.01,122.21 134.47,122.54 134.93,122.87 135.39,123.19 135.84,123.49 136.30,123.78 136.76,124.06 137.22,124.32 137.67,124.57 138.13,124.81 138.59,125.04 139.05,125.25 139.51,125.45 139.97,125.63 140.43,125.80 140.89,125.95 141.35,126.09 141.80,126.21 142.26,126.32 142.72,126.41 143.18,126.49 143.64,126.55 144.10,126.60 144.56,126.63 145.02,126.64 145.48,126.64 145.94,126.63 146.40,126.60 146.86,126.55 147.32,126.49 147.78,126.41 148.24,126.32 148.70,126.21 149.15,126.09 149.61,125.95 150.07,125.80 150.53,125.63 150.99,125.45 151.45,125.25 151.91,125.04 152.37,124.81 152.83,124.57 153.28,124.32 153.74,124.06 154.20,123.78 154.66,123.49 155.11,123.19 155.57,122.87 156.03,122.54 156.49,122.21 156.94,121.86 157.40,121.50 157.85,121.13 158.31,120.75 158.77,120.36 159.22,119.96 159.68,119.55 160.13,119.13 160.59,118.71 161.04,118.28 161.49,117.84 161.95,117.39 162.40,116.94 162.85,116.48 163.31,116.01 163.76,115.54 164.21,115.06 164.66,114.58 165.11,114.10 165.56,113.61 166.01,113.11 166.46,112.62 166.91,112.12 167.36,111.62 167.81,111.11 168.26,110.61 168.70,110.10 169.15,109.59 169.60,109.09 170.04,108.58 170.49,108.07 170.93,107.56 171.38,107.05 171.82,106.55 172.27,106.04 172.71,105.54 173.15,105.03 173.59,104.53 174.04,104.04 174.48,103.54 174.92,103.05 175.36,102.56 175.79,102.08 176.23,101.59 176.67,101.12 177.11,100.64 177.54,100.17 177.98,99.71 178.41,99.25 178.85,98.79 179.28,98.34 179.71,97.90 180.15,97.46 180.58,97.03 181.01,96.60 181.44,96.18 181.87,95.76 182.30,95.35 182.73,94.95 183.15,94.56 183.58,94.17 184.00,93.78 184.43,93.41 184.85,93.04 185.28,92.68 185.70,92.32 186.12,91.98 186.54,91.64 186.96,91.31 187.38,90.98 187.80,90.67 188.22,90.36 188.63,90.06 189.05,89.76 189.46,89.48 189.88,89.20 190.29,88.94 190.70,88.68 191.11,88.42 191.52,88.18 191.93,87.95 192.34,87.72 192.75,87.50 193.16,87.30 193.56,87.10 193.97,86.90 194.37,86.72 194.77,86.55 195.17,86.38 195.57,86.23 195.97,86.08 196.37,85.94 196.77,85.82 197.17,85.70 197.56,85.59 197.96,85.49 198.35,85.39 198.74,85.31 199.13,85.24 199.52,85.17 199.91,85.12 200.30,85.08 200.68,85.04 201.07,85.01 201.45,85.00 201.84,84.99 202.22,84.99 202.60,85.00 202.98,85.03 203.36,85.06 203.74,85.10 204.11,85.15 204.49,85.21 204.86,85.28 205.24,85.36 205.61,85.44 205.98,85.54 206.35,85.65 206.71,85.77 207.08,85.89 207.45,86.03 207.81,86.18 208.17,86.33 208.53,86.50 208.89,86.67 209.25,86.86 209.61,87.05 209.97,87.25 210.32,87.46 210.68,87.69 211.03,87.92 211.38,88.16 211.73,88.41 212.08,88.66 212.43,88.93 212.77,89.21 213.12,89.49 213.46,89.79 213.80,90.09 214.14,90.40 214.48,90.73 214.82,91.06 215.15,91.39 215.49,91.74 215.82,92.10 216.15,92.46 216.48,92.83 216.81,93.22 217.14,93.61 217.47,94.00 217.79,94.41 218.11,94.82 218.43,95.24 218.75,95.67 219.07,96.11 219.39,96.56 219.71,97.01 220.02,97.47 220.33,97.94 220.64,98.41 220.95,98.89 221.26,99.38 221.57,99.88 221.87,100.38 222.18,100.89 222.48,101.41 222.78,101.93 223.08,102.46 223.38,103.00 223.67,103.55 223.97,104.09 224.26,104.65 224.55,105.21 224.84,105.78 225.13,106.36 225.41,106.94 225.70,107.52 225.98,108.11 226.26,108.71 226.54,109.31 226.82,109.92 227.09,110.54 227.37,111.15 227.64,111.78 227.91,112.41 228.18,113.04 228.45,113.68 228.72,114.32 228.98,114.97 229.24,115.62 229.50,116.28 229.76,116.94 230.02,117.61 230.28,118.28 230.53,118.95 230.78,119.63 231.04,120.32 231.28,121.00 231.53,121.69 231.78,122.39 232.02,123.08 232.26,123.79 232.50,124.49 232.74,125.20 232.98,125.91 233.22,126.63 233.45,127.35 233.68,128.07 233.91,128.79 234.14,129.52 234.36,130.25 234.59,130.98 234.81,131.72 235.03,132.46 235.25,133.20 235.47,133.95 235.68,134.69 235.90,135.44 236.11,136.19 236.32,136.95 236.53,137.71 236.73,138.46 236.94,139.23 237.14,139.99 237.34,140.75 237.54,141.52 237.73,142.29 237.93,143.06 238.12,143.84 238.31,144.61 238.50,145.39 238.69,146.17 238.88,146.95 239.06,147.73 239.24,148.51 239.42,149.30 239.60,150.09 239.78,150.87 239.95,151.66 240.12,152.46 240.29,153.25 240.46,154.04 240.63,154.84 240.79,155.63 240.96,156.43 241.12,157.23 241.27,158.03 241.43,158.83 241.59,159.63 241.74,160.44 241.89,161.24 242.04,162.05 242.19,162.85 242.33,163.66 242.47,164.47 242.62,165.28 242.76,166.09 242.89,166.90 243.03,167.71 243.16,168.52 243.29,169.33 243.42,170.15 243.55,170.96 243.67,171.78 243.80,172.59 243.92,173.41 244.04,174.22 244.16,175.04 244.27,175.86 244.39,176.68 244.50,177.50 244.61,178.32 244.71,179.14 244.82,179.96 244.92,180.78 245.02,181.60 245.12,182.42 245.22,183.24 245.32,184.06 245.41,184.89 245.50,185.71 245.59,186.53 245.68,187.36 245.76,188.18 245.85,189.00 245.93,189.83 246.01,190.65 246.08,191.48 246.16,192.30 246.23,193.13 246.30,193.95 246.37,194.78 246.44,195.61 246.50,196.43 246.57,197.26 246.63,198.09 246.68,198.91 246.74,199.74 246.80,200.57 246.85,201.39 246.90,202.22 246.95,203.05 246.99,203.88 247.04,204.70 247.08,205.53 247.12,206.36 247.16,207.19 247.19,208.01 247.23,208.84 247.26,209.67 247.29,210.50 247.32,211.33 247.34,212.16 247.37,212.98 247.39,213.81 247.41,214.64 247.43,215.47 247.44,216.30 247.46,217.13 247.47,217.96 247.48,218.79 247.48,219.61 247.49,220.44 247.49,221.27 247.49,222.10" fill="none" stroke="#998b3d" stroke-width="1.55" stroke-dasharray="13.8 2.2" stroke-linejoin="round"/>
<text x="24.50" y="123.15" font-size="12" text-anchor="middle">Δ</text>
<text x="145.25" y="253.70" font-size="11.5" text-anchor="middle" font-style="italic">γ</text>
<text x="145.25" y="270.10" font-size="13" text-anchor="middle"><tspan>(</tspan><tspan font-style="italic">a</tspan><tspan>)</tspan></text>
<text transform="translate(79.40,10.00) scale(1.28,1)" font-size="10.0" font-style="italic">σ</text><text transform="translate(86.80,9.90) scale(0.97,0.95)" font-size="10.7" fill="#333">=</text><text x="93.10" y="10.00" font-size="10.7">0.01,</text><text transform="translate(118.10,10.00) scale(1.32,1)" font-size="8.7" font-style="italic">ω</text><line x1="118.40" y1="3.45" x2="125.70" y2="3.45" stroke="#222" stroke-width="0.5"/><text transform="translate(125.90,9.90) scale(0.97,0.95)" font-size="10.7" fill="#333">=</text><text x="132.40" y="10.00" font-size="10.7">0.3,0.4,0.5,</text><text transform="translate(184.15,10.00) scale(1.2,1)" font-size="10.0" font-style="italic">α</text><text transform="translate(191.55,9.90) scale(0.97,0.95)" font-size="10.7" fill="#333">=</text><text x="197.85" y="10.00" font-size="10.7">0.1</text>
<path d="M330.5,13.0 H542.5 V225.4" fill="none" stroke="#b8b8b8" stroke-width="1"/>
<line x1="436.35" y1="13.0" x2="436.35" y2="225.4" stroke="#bfbfbf" stroke-width="0.8"/>
<path d="M330.5,13.0 V225.4 H542.5" fill="none" stroke="#aeaeae" stroke-width="1"/>
<text transform="translate(328.20,224.30) scale(0.9,1)" class="tk" font-size="11.0" text-anchor="end">0</text>
<text transform="translate(328.20,179.21) scale(0.9,1)" class="tk" font-size="11.0" text-anchor="end">1</text>
<text transform="translate(328.20,134.12) scale(0.9,1)" class="tk" font-size="11.0" text-anchor="end">2</text>
<text transform="translate(328.20,89.03) scale(0.9,1)" class="tk" font-size="11.0" text-anchor="end">3</text>
<text transform="translate(328.20,43.94) scale(0.9,1)" class="tk" font-size="11.0" text-anchor="end">4</text>
<path d="M330.5,220.65h3.1 M330.5,211.63h1.8 M330.5,202.61h1.8 M330.5,193.60h1.8 M330.5,184.58h1.8 M330.5,175.56h3.1 M330.5,166.54h1.8 M330.5,157.52h1.8 M330.5,148.51h1.8 M330.5,139.49h1.8 M330.5,130.47h3.1 M330.5,121.45h1.8 M330.5,112.43h1.8 M330.5,103.42h1.8 M330.5,94.40h1.8 M330.5,85.38h3.1 M330.5,76.36h1.8 M330.5,67.34h1.8 M330.5,58.33h1.8 M330.5,49.31h1.8 M330.5,40.29h3.1 M330.5,31.27h1.8 M330.5,22.25h1.8 M330.5,13.24h1.8 M334.41,225.4v-3.6 M359.89,225.4v-3.6 M385.38,225.4v-3.6 M410.86,225.4v-3.6 M436.35,225.4v-3.6 M461.84,225.4v-3.6 M487.32,225.4v-3.6 M512.81,225.4v-3.6 M538.29,225.4v-3.6" fill="none" stroke="#9a9a9a" stroke-width="0.7"/>
<text x="327.28" y="237.55" font-size="11.6">−</text>
<line x1="336.33" y1="235.10" x2="341.08" y2="235.10" stroke="#222" stroke-width="0.6"/>
<text x="338.71" y="232.90" font-size="7.6" text-anchor="middle" font-style="italic">π</text>
<text x="338.71" y="242.00" font-size="7.6" text-anchor="middle">2</text>
<text x="350.37" y="238.75" font-size="11.6">−</text>
<line x1="359.42" y1="236.30" x2="368.97" y2="236.30" stroke="#222" stroke-width="0.6"/>
<text x="364.19" y="234.10" font-size="7.6" text-anchor="middle">3<tspan dx="1.0" font-style="italic">π</tspan></text>
<text x="364.19" y="243.20" font-size="7.6" text-anchor="middle">8</text>
<text x="378.25" y="237.55" font-size="11.6">−</text>
<line x1="387.30" y1="235.10" x2="392.05" y2="235.10" stroke="#222" stroke-width="0.6"/>
<text x="389.68" y="232.90" font-size="7.6" text-anchor="middle" font-style="italic">π</text>
<text x="389.68" y="242.00" font-size="7.6" text-anchor="middle">4</text>
<text x="403.74" y="237.55" font-size="11.6">−</text>
<line x1="412.79" y1="235.10" x2="417.54" y2="235.10" stroke="#222" stroke-width="0.6"/>
<text x="415.16" y="232.90" font-size="7.6" text-anchor="middle" font-style="italic">π</text>
<text x="415.16" y="242.00" font-size="7.6" text-anchor="middle">8</text>
<text x="435.95" y="237.70" font-size="11.5" text-anchor="middle">0</text>
<line x1="459.46" y1="235.10" x2="464.21" y2="235.10" stroke="#222" stroke-width="0.6"/>
<text x="461.84" y="232.90" font-size="7.6" text-anchor="middle" font-style="italic">π</text>
<text x="461.84" y="242.00" font-size="7.6" text-anchor="middle">8</text>
<line x1="484.95" y1="235.10" x2="489.70" y2="235.10" stroke="#222" stroke-width="0.6"/>
<text x="487.32" y="232.90" font-size="7.6" text-anchor="middle" font-style="italic">π</text>
<text x="487.32" y="242.00" font-size="7.6" text-anchor="middle">4</text>
<line x1="508.03" y1="236.30" x2="517.58" y2="236.30" stroke="#222" stroke-width="0.6"/>
<text x="512.81" y="234.10" font-size="7.6" text-anchor="middle">3<tspan dx="1.0" font-style="italic">π</tspan></text>
<text x="512.81" y="243.20" font-size="7.6" text-anchor="middle">8</text>
<line x1="535.92" y1="235.10" x2="540.67" y2="235.10" stroke="#222" stroke-width="0.6"/>
<text x="538.29" y="232.90" font-size="7.6" text-anchor="middle" font-style="italic">π</text>
<text x="538.29" y="242.00" font-size="7.6" text-anchor="middle">2</text>
<polyline points="334.41,221.20 334.41,219.93 334.41,218.66 334.41,217.38 334.42,216.11 334.43,214.84 334.44,213.57 334.46,212.29 334.47,211.02 334.49,209.75 334.51,208.48 334.53,207.21 334.55,205.94 334.58,204.66 334.61,203.39 334.64,202.12 334.67,200.85 334.70,199.58 334.74,198.31 334.78,197.04 334.82,195.76 334.86,194.49 334.90,193.22 334.95,191.95 335.00,190.68 335.05,189.41 335.10,188.14 335.15,186.87 335.21,185.60 335.27,184.34 335.33,183.07 335.39,181.80 335.46,180.53 335.52,179.26 335.59,177.99 335.66,176.73 335.74,175.46 335.81,174.19 335.89,172.93 335.97,171.66 336.05,170.40 336.13,169.13 336.22,167.87 336.30,166.60 336.39,165.34 336.48,164.08 336.58,162.81 336.67,161.55 336.77,160.29 336.87,159.03 336.97,157.77 337.07,156.51 337.18,155.25 337.28,153.99 337.39,152.74 337.50,151.48 337.62,150.23 337.73,148.97 337.85,147.72 337.97,146.47 338.09,145.21 338.21,143.96 338.34,142.71 338.46,141.47 338.59,140.22 338.72,138.97 338.86,137.73 338.99,136.48 339.13,135.24 339.27,134.00 339.41,132.76 339.55,131.52 339.70,130.29 339.84,129.05 339.99,127.82 340.14,126.59 340.29,125.36 340.45,124.13 340.61,122.90 340.76,121.68 340.92,120.45 341.09,119.23 341.25,118.02 341.42,116.80 341.58,115.58 341.75,114.37 341.93,113.16 342.10,111.96 342.28,110.75 342.45,109.55 342.63,108.35 342.81,107.15 343.00,105.96 343.18,104.77 343.37,103.58 343.56,102.39 343.75,101.21 343.94,100.03 344.14,98.85 344.33,97.68 344.53,96.51 344.73,95.34 344.93,94.18 345.13,93.02 345.34,91.87 345.55,90.72 345.76,89.57 345.97,88.43 346.18,87.29 346.40,86.15 346.61,85.02 346.83,83.90 347.05,82.78 347.27,81.66 347.50,80.55 347.72,79.44 347.95,78.34 348.18,77.24 348.41,76.15 348.64,75.07 348.88,73.98 349.11,72.91 349.35,71.84 349.59,70.78 349.83,69.72 350.07,68.67 350.32,67.62 350.57,66.58 350.81,65.55 351.06,64.53 351.32,63.51 351.57,62.50 351.83,61.49 352.08,60.49 352.34,59.50 352.60,58.52 352.86,57.55 353.13,56.58 353.39,55.62 353.66,54.67 353.93,53.72 354.20,52.79 354.47,51.86 354.75,50.94 355.02,50.04 355.30,49.14 355.58,48.24 355.86,47.36 356.14,46.49 356.42,45.63 356.71,44.77 356.99,43.93 357.28,43.10 357.57,42.27 357.86,41.46 358.16,40.66 358.45,39.87 358.75,39.09 359.05,38.32 359.35,37.56 359.65,36.81 359.95,36.07 360.25,35.35 360.56,34.64 360.87,33.94 361.18,33.25 361.49,32.57 361.80,31.91 362.11,31.25 362.43,30.61 362.74,29.99 363.06,29.37 363.38,28.77 363.70,28.19 364.02,27.61 364.35,27.05 364.67,26.51 365.00,25.97 365.32,25.45 365.65,24.95 365.99,24.46 366.32,23.98 366.65,23.52 366.99,23.07 367.32,22.64 367.66,22.22 368.00,21.82 368.34,21.43 368.68,21.06 369.03,20.70 369.37,20.36 369.72,20.03 370.06,19.72 370.41,19.43 370.76,19.15 371.11,18.88 371.47,18.64 371.82,18.40 372.18,18.19 372.53,17.99 372.89,17.81 373.25,17.64 373.61,17.49 373.97,17.36 374.34,17.24 374.70,17.14 375.07,17.06 375.43,17.00 375.80,16.95 376.17,16.92 376.54,16.90 376.91,16.90 377.28,16.92 377.66,16.96 378.03,17.02 378.41,17.09 378.79,17.18 379.17,17.28 379.55,17.41 379.93,17.55 380.31,17.71 380.69,17.89 381.08,18.08 381.46,18.30 381.85,18.53 382.24,18.78 382.63,19.04 383.02,19.33 383.41,19.63 383.80,19.95 384.19,20.29 384.59,20.64 384.98,21.02 385.38,21.41 385.77,21.82 386.17,22.25 386.57,22.70 386.97,23.16 387.37,23.64 387.78,24.14 388.18,24.66 388.58,25.20 388.99,25.75 389.40,26.33 389.80,26.92 390.21,27.53 390.62,28.15 391.03,28.80 391.44,29.46 391.85,30.14 392.27,30.84 392.68,31.55 393.09,32.29 393.51,33.04 393.92,33.81 394.34,34.59 394.76,35.39 395.18,36.21 395.60,37.05 396.02,37.90 396.44,38.77 396.86,39.66 397.28,40.57 397.71,41.48 398.13,42.42 398.56,43.37 398.98,44.34 399.41,45.32 399.84,46.32 400.27,47.33 400.69,48.35 401.12,49.39 401.55,50.45 401.99,51.52 402.42,52.60 402.85,53.69 403.28,54.80 403.72,55.91 404.15,57.04 404.59,58.18 405.02,59.33 405.46,60.49 405.89,61.66 406.33,62.84 406.77,64.03 407.21,65.22 407.65,66.43 408.09,67.64 408.53,68.85 408.97,70.07 409.41,71.30 409.85,72.53 410.30,73.76 410.74,74.99 411.18,76.23 411.63,77.47 412.07,78.70 412.52,79.94 412.96,81.18 413.41,82.41 413.86,83.64 414.30,84.86 414.75,86.09 415.20,87.30 415.65,88.51 416.10,89.71 416.55,90.90 417.00,92.09 417.45,93.26 417.90,94.42 418.35,95.57 418.80,96.70 419.25,97.83 419.70,98.93 420.15,100.02 420.61,101.10 421.06,102.15 421.51,103.19 421.97,104.20 422.42,105.20 422.87,106.17 423.33,107.12 423.78,108.05 424.24,108.95 424.69,109.83 425.15,110.68 425.60,111.51 426.06,112.31 426.51,113.07 426.97,113.81 427.43,114.52 427.88,115.20 428.34,115.85 428.80,116.46 429.25,117.04 429.71,117.59 430.17,118.11 430.63,118.59 431.08,119.03 431.54,119.44 432.00,119.82 432.46,120.15 432.91,120.46 433.37,120.72 433.83,120.95 434.29,121.14 434.75,121.29 435.20,121.40 435.66,121.48 436.12,121.52 436.58,121.52 437.04,121.48 437.50,121.40 437.95,121.29 438.41,121.14 438.87,120.95 439.33,120.72 439.79,120.46 440.24,120.15 440.70,119.82 441.16,119.44 441.62,119.03 442.07,118.59 442.53,118.11 442.99,117.59 443.45,117.04 443.90,116.46 444.36,115.85 444.82,115.20 445.27,114.52 445.73,113.81 446.19,113.07 446.64,112.31 447.10,111.51 447.55,110.68 448.01,109.83 448.46,108.95 448.92,108.05 449.37,107.12 449.83,106.17 450.28,105.20 450.73,104.20 451.19,103.19 451.64,102.15 452.09,101.10 452.55,100.02 453.00,98.93 453.45,97.83 453.90,96.70 454.35,95.57 454.80,94.42 455.25,93.26 455.70,92.09 456.15,90.90 456.60,89.71 457.05,88.51 457.50,87.30 457.95,86.09 458.40,84.86 458.84,83.64 459.29,82.41 459.74,81.18 460.18,79.94 460.63,78.70 461.07,77.47 461.52,76.23 461.96,74.99 462.40,73.76 462.85,72.53 463.29,71.30 463.73,70.07 464.17,68.85 464.61,67.64 465.05,66.43 465.49,65.22 465.93,64.03 466.37,62.84 466.81,61.66 467.24,60.49 467.68,59.33 468.11,58.18 468.55,57.04 468.98,55.91 469.42,54.80 469.85,53.69 470.28,52.60 470.71,51.52 471.15,50.45 471.58,49.39 472.01,48.35 472.43,47.33 472.86,46.32 473.29,45.32 473.72,44.34 474.14,43.37 474.57,42.42 474.99,41.48 475.42,40.57 475.84,39.66 476.26,38.77 476.68,37.90 477.10,37.05 477.52,36.21 477.94,35.39 478.36,34.59 478.78,33.81 479.19,33.04 479.61,32.29 480.02,31.55 480.43,30.84 480.85,30.14 481.26,29.46 481.67,28.80 482.08,28.15 482.49,27.53 482.90,26.92 483.30,26.33 483.71,25.75 484.12,25.20 484.52,24.66 484.92,24.14 485.33,23.64 485.73,23.16 486.13,22.70 486.53,22.25 486.93,21.82 487.32,21.41 487.72,21.02 488.11,20.64 488.51,20.29 488.90,19.95 489.29,19.63 489.68,19.33 490.07,19.04 490.46,18.78 490.85,18.53 491.24,18.30 491.62,18.08 492.01,17.89 492.39,17.71 492.77,17.55 493.15,17.41 493.53,17.28 493.91,17.18 494.29,17.09 494.67,17.02 495.04,16.96 495.42,16.92 495.79,16.90 496.16,16.90 496.53,16.92 496.90,16.95 497.27,17.00 497.63,17.06 498.00,17.14 498.36,17.24 498.73,17.36 499.09,17.49 499.45,17.64 499.81,17.81 500.17,17.99 500.52,18.19 500.88,18.40 501.23,18.64 501.59,18.88 501.94,19.15 502.29,19.43 502.64,19.72 502.98,20.03 503.33,20.36 503.67,20.70 504.02,21.06 504.36,21.43 504.70,21.82 505.04,22.22 505.38,22.64 505.71,23.07 506.05,23.52 506.38,23.98 506.71,24.46 507.05,24.95 507.38,25.45 507.70,25.97 508.03,26.51 508.35,27.05 508.68,27.61 509.00,28.19 509.32,28.77 509.64,29.37 509.96,29.99 510.27,30.61 510.59,31.25 510.90,31.91 511.21,32.57 511.52,33.25 511.83,33.94 512.14,34.64 512.45,35.35 512.75,36.07 513.05,36.81 513.35,37.56 513.65,38.32 513.95,39.09 514.25,39.87 514.54,40.66 514.84,41.46 515.13,42.27 515.42,43.10 515.71,43.93 515.99,44.77 516.28,45.63 516.56,46.49 516.84,47.36 517.12,48.24 517.40,49.14 517.68,50.04 517.95,50.94 518.23,51.86 518.50,52.79 518.77,53.72 519.04,54.67 519.31,55.62 519.57,56.58 519.84,57.55 520.10,58.52 520.36,59.50 520.62,60.49 520.87,61.49 521.13,62.50 521.38,63.51 521.64,64.53 521.89,65.55 522.13,66.58 522.38,67.62 522.63,68.67 522.87,69.72 523.11,70.78 523.35,71.84 523.59,72.91 523.82,73.98 524.06,75.07 524.29,76.15 524.52,77.24 524.75,78.34 524.98,79.44 525.20,80.55 525.43,81.66 525.65,82.78 525.87,83.90 526.09,85.02 526.30,86.15 526.52,87.29 526.73,88.43 526.94,89.57 527.15,90.72 527.36,91.87 527.57,93.02 527.77,94.18 527.97,95.34 528.17,96.51 528.37,97.68 528.56,98.85 528.76,100.03 528.95,101.21 529.14,102.39 529.33,103.58 529.52,104.77 529.70,105.96 529.89,107.15 530.07,108.35 530.25,109.55 530.42,110.75 530.60,111.96 530.77,113.16 530.95,114.37 531.12,115.58 531.28,116.80 531.45,118.02 531.61,119.23 531.78,120.45 531.94,121.68 532.09,122.90 532.25,124.13 532.41,125.36 532.56,126.59 532.71,127.82 532.86,129.05 533.00,130.29 533.15,131.52 533.29,132.76 533.43,134.00 533.57,135.24 533.71,136.48 533.84,137.73 533.98,138.97 534.11,140.22 534.24,141.47 534.36,142.71 534.49,143.96 534.61,145.21 534.73,146.47 534.85,147.72 534.97,148.97 535.08,150.23 535.20,151.48 535.31,152.74 535.42,153.99 535.52,155.25 535.63,156.51 535.73,157.77 535.83,159.03 535.93,160.29 536.03,161.55 536.12,162.81 536.22,164.08 536.31,165.34 536.40,166.60 536.48,167.87 536.57,169.13 536.65,170.40 536.73,171.66 536.81,172.93 536.89,174.19 536.96,175.46 537.04,176.73 537.11,177.99 537.18,179.26 537.24,180.53 537.31,181.80 537.37,183.07 537.43,184.34 537.49,185.60 537.55,186.87 537.60,188.14 537.65,189.41 537.70,190.68 537.75,191.95 537.80,193.22 537.84,194.49 537.88,195.76 537.92,197.04 537.96,198.31 538.00,199.58 538.03,200.85 538.06,202.12 538.09,203.39 538.12,204.66 538.15,205.94 538.17,207.21 538.19,208.48 538.21,209.75 538.23,211.02 538.24,212.29 538.26,213.57 538.27,214.84 538.28,216.11 538.29,217.38 538.29,218.66 538.29,219.93 538.29,221.20" fill="none" stroke="#3f3d99" stroke-width="1.55" stroke-dasharray="5.4 2.33" stroke-linejoin="round"/>
<polyline points="334.41,221.20 334.41,220.20 334.41,219.20 334.41,218.20 334.42,217.20 334.43,216.20 334.44,215.20 334.46,214.20 334.47,213.20 334.49,212.20 334.51,211.20 334.53,210.20 334.55,209.21 334.58,208.21 334.61,207.21 334.64,206.21 334.67,205.21 334.70,204.21 334.74,203.21 334.78,202.21 334.82,201.21 334.86,200.22 334.90,199.22 334.95,198.22 335.00,197.22 335.05,196.22 335.10,195.23 335.15,194.23 335.21,193.23 335.27,192.23 335.33,191.24 335.39,190.24 335.46,189.24 335.52,188.25 335.59,187.25 335.66,186.26 335.74,185.26 335.81,184.27 335.89,183.27 335.97,182.28 336.05,181.28 336.13,180.29 336.22,179.30 336.30,178.30 336.39,177.31 336.48,176.32 336.58,175.33 336.67,174.34 336.77,173.35 336.87,172.36 336.97,171.37 337.07,170.38 337.18,169.39 337.28,168.40 337.39,167.42 337.50,166.43 337.62,165.45 337.73,164.46 337.85,163.48 337.97,162.50 338.09,161.52 338.21,160.54 338.34,159.56 338.46,158.58 338.59,157.60 338.72,156.62 338.86,155.65 338.99,154.67 339.13,153.70 339.27,152.73 339.41,151.76 339.55,150.79 339.70,149.82 339.84,148.85 339.99,147.89 340.14,146.93 340.29,145.96 340.45,145.00 340.61,144.04 340.76,143.09 340.92,142.13 341.09,141.18 341.25,140.23 341.42,139.28 341.58,138.33 341.75,137.39 341.93,136.44 342.10,135.50 342.28,134.56 342.45,133.63 342.63,132.69 342.81,131.76 343.00,130.83 343.18,129.90 343.37,128.98 343.56,128.06 343.75,127.14 343.94,126.22 344.14,125.31 344.33,124.40 344.53,123.50 344.73,122.59 344.93,121.69 345.13,120.79 345.34,119.90 345.55,119.01 345.76,118.12 345.97,117.24 346.18,116.36 346.40,115.49 346.61,114.61 346.83,113.75 347.05,112.88 347.27,112.02 347.50,111.17 347.72,110.32 347.95,109.47 348.18,108.63 348.41,107.79 348.64,106.96 348.88,106.13 349.11,105.31 349.35,104.49 349.59,103.68 349.83,102.87 350.07,102.06 350.32,101.27 350.57,100.48 350.81,99.69 351.06,98.91 351.32,98.13 351.57,97.36 351.83,96.60 352.08,95.84 352.34,95.09 352.60,94.34 352.86,93.61 353.13,92.87 353.39,92.15 353.66,91.43 353.93,90.71 354.20,90.01 354.47,89.31 354.75,88.62 355.02,87.93 355.30,87.25 355.58,86.58 355.86,85.92 356.14,85.26 356.42,84.61 356.71,83.97 356.99,83.34 357.28,82.71 357.57,82.10 357.86,81.49 358.16,80.89 358.45,80.29 358.75,79.71 359.05,79.13 359.35,78.56 359.65,78.01 359.95,77.46 360.25,76.91 360.56,76.38 360.87,75.86 361.18,75.34 361.49,74.84 361.80,74.34 362.11,73.85 362.43,73.38 362.74,72.91 363.06,72.45 363.38,72.00 363.70,71.56 364.02,71.13 364.35,70.71 364.67,70.30 365.00,69.90 365.32,69.51 365.65,69.13 365.99,68.76 366.32,68.40 366.65,68.06 366.99,67.72 367.32,67.39 367.66,67.07 368.00,66.77 368.34,66.47 368.68,66.19 369.03,65.91 369.37,65.65 369.72,65.40 370.06,65.16 370.41,64.93 370.76,64.71 371.11,64.50 371.47,64.31 371.82,64.12 372.18,63.95 372.53,63.79 372.89,63.64 373.25,63.50 373.61,63.38 373.97,63.26 374.34,63.16 374.70,63.07 375.07,62.99 375.43,62.92 375.80,62.86 376.17,62.82 376.54,62.79 376.91,62.77 377.28,62.76 377.66,62.77 378.03,62.79 378.41,62.82 378.79,62.86 379.17,62.91 379.55,62.98 379.93,63.06 380.31,63.15 380.69,63.26 381.08,63.38 381.46,63.51 381.85,63.65 382.24,63.80 382.63,63.97 383.02,64.15 383.41,64.35 383.80,64.56 384.19,64.78 384.59,65.01 384.98,65.25 385.38,65.51 385.77,65.79 386.17,66.07 386.57,66.37 386.97,66.68 387.37,67.01 387.78,67.34 388.18,67.69 388.58,68.06 388.99,68.43 389.40,68.82 389.80,69.23 390.21,69.64 390.62,70.07 391.03,70.52 391.44,70.97 391.85,71.44 392.27,71.92 392.68,72.42 393.09,72.92 393.51,73.44 393.92,73.98 394.34,74.52 394.76,75.08 395.18,75.65 395.60,76.23 396.02,76.83 396.44,77.43 396.86,78.05 397.28,78.68 397.71,79.33 398.13,79.98 398.56,80.65 398.98,81.32 399.41,82.01 399.84,82.71 400.27,83.42 400.69,84.14 401.12,84.87 401.55,85.61 401.99,86.36 402.42,87.12 402.85,87.88 403.28,88.66 403.72,89.44 404.15,90.24 404.59,91.04 405.02,91.85 405.46,92.66 405.89,93.48 406.33,94.31 406.77,95.14 407.21,95.98 407.65,96.82 408.09,97.67 408.53,98.52 408.97,99.38 409.41,100.24 409.85,101.10 410.30,101.96 410.74,102.83 411.18,103.69 411.63,104.56 412.07,105.42 412.52,106.29 412.96,107.15 413.41,108.01 413.86,108.87 414.30,109.73 414.75,110.58 415.20,111.43 415.65,112.27 416.10,113.10 416.55,113.93 417.00,114.76 417.45,115.57 417.90,116.38 418.35,117.18 418.80,117.97 419.25,118.75 419.70,119.52 420.15,120.27 420.61,121.02 421.06,121.75 421.51,122.47 421.97,123.17 422.42,123.86 422.87,124.53 423.33,125.19 423.78,125.83 424.24,126.46 424.69,127.06 425.15,127.65 425.60,128.22 426.06,128.77 426.51,129.30 426.97,129.81 427.43,130.30 427.88,130.77 428.34,131.21 428.80,131.64 429.25,132.04 429.71,132.41 430.17,132.77 430.63,133.10 431.08,133.41 431.54,133.69 432.00,133.94 432.46,134.18 432.91,134.38 433.37,134.57 433.83,134.72 434.29,134.85 434.75,134.96 435.20,135.04 435.66,135.09 436.12,135.11 436.58,135.11 437.04,135.09 437.50,135.04 437.95,134.96 438.41,134.85 438.87,134.72 439.33,134.57 439.79,134.38 440.24,134.18 440.70,133.94 441.16,133.69 441.62,133.41 442.07,133.10 442.53,132.77 442.99,132.41 443.45,132.04 443.90,131.64 444.36,131.21 444.82,130.77 445.27,130.30 445.73,129.81 446.19,129.30 446.64,128.77 447.10,128.22 447.55,127.65 448.01,127.06 448.46,126.46 448.92,125.83 449.37,125.19 449.83,124.53 450.28,123.86 450.73,123.17 451.19,122.47 451.64,121.75 452.09,121.02 452.55,120.27 453.00,119.52 453.45,118.75 453.90,117.97 454.35,117.18 454.80,116.38 455.25,115.57 455.70,114.76 456.15,113.93 456.60,113.10 457.05,112.27 457.50,111.43 457.95,110.58 458.40,109.73 458.84,108.87 459.29,108.01 459.74,107.15 460.18,106.29 460.63,105.42 461.07,104.56 461.52,103.69 461.96,102.83 462.40,101.96 462.85,101.10 463.29,100.24 463.73,99.38 464.17,98.52 464.61,97.67 465.05,96.82 465.49,95.98 465.93,95.14 466.37,94.31 466.81,93.48 467.24,92.66 467.68,91.85 468.11,91.04 468.55,90.24 468.98,89.44 469.42,88.66 469.85,87.88 470.28,87.12 470.71,86.36 471.15,85.61 471.58,84.87 472.01,84.14 472.43,83.42 472.86,82.71 473.29,82.01 473.72,81.32 474.14,80.65 474.57,79.98 474.99,79.33 475.42,78.68 475.84,78.05 476.26,77.43 476.68,76.83 477.10,76.23 477.52,75.65 477.94,75.08 478.36,74.52 478.78,73.98 479.19,73.44 479.61,72.92 480.02,72.42 480.43,71.92 480.85,71.44 481.26,70.97 481.67,70.52 482.08,70.07 482.49,69.64 482.90,69.23 483.30,68.82 483.71,68.43 484.12,68.06 484.52,67.69 484.92,67.34 485.33,67.01 485.73,66.68 486.13,66.37 486.53,66.07 486.93,65.79 487.32,65.51 487.72,65.25 488.11,65.01 488.51,64.78 488.90,64.56 489.29,64.35 489.68,64.15 490.07,63.97 490.46,63.80 490.85,63.65 491.24,63.51 491.62,63.38 492.01,63.26 492.39,63.15 492.77,63.06 493.15,62.98 493.53,62.91 493.91,62.86 494.29,62.82 494.67,62.79 495.04,62.77 495.42,62.76 495.79,62.77 496.16,62.79 496.53,62.82 496.90,62.86 497.27,62.92 497.63,62.99 498.00,63.07 498.36,63.16 498.73,63.26 499.09,63.38 499.45,63.50 499.81,63.64 500.17,63.79 500.52,63.95 500.88,64.12 501.23,64.31 501.59,64.50 501.94,64.71 502.29,64.93 502.64,65.16 502.98,65.40 503.33,65.65 503.67,65.91 504.02,66.19 504.36,66.47 504.70,66.77 505.04,67.07 505.38,67.39 505.71,67.72 506.05,68.06 506.38,68.40 506.71,68.76 507.05,69.13 507.38,69.51 507.70,69.90 508.03,70.30 508.35,70.71 508.68,71.13 509.00,71.56 509.32,72.00 509.64,72.45 509.96,72.91 510.27,73.38 510.59,73.85 510.90,74.34 511.21,74.84 511.52,75.34 511.83,75.86 512.14,76.38 512.45,76.91 512.75,77.46 513.05,78.01 513.35,78.56 513.65,79.13 513.95,79.71 514.25,80.29 514.54,80.89 514.84,81.49 515.13,82.10 515.42,82.71 515.71,83.34 515.99,83.97 516.28,84.61 516.56,85.26 516.84,85.92 517.12,86.58 517.40,87.25 517.68,87.93 517.95,88.62 518.23,89.31 518.50,90.01 518.77,90.71 519.04,91.43 519.31,92.15 519.57,92.87 519.84,93.61 520.10,94.34 520.36,95.09 520.62,95.84 520.87,96.60 521.13,97.36 521.38,98.13 521.64,98.91 521.89,99.69 522.13,100.48 522.38,101.27 522.63,102.06 522.87,102.87 523.11,103.68 523.35,104.49 523.59,105.31 523.82,106.13 524.06,106.96 524.29,107.79 524.52,108.63 524.75,109.47 524.98,110.32 525.20,111.17 525.43,112.02 525.65,112.88 525.87,113.75 526.09,114.61 526.30,115.49 526.52,116.36 526.73,117.24 526.94,118.12 527.15,119.01 527.36,119.90 527.57,120.79 527.77,121.69 527.97,122.59 528.17,123.50 528.37,124.40 528.56,125.31 528.76,126.22 528.95,127.14 529.14,128.06 529.33,128.98 529.52,129.90 529.70,130.83 529.89,131.76 530.07,132.69 530.25,133.63 530.42,134.56 530.60,135.50 530.77,136.44 530.95,137.39 531.12,138.33 531.28,139.28 531.45,140.23 531.61,141.18 531.78,142.13 531.94,143.09 532.09,144.04 532.25,145.00 532.41,145.96 532.56,146.93 532.71,147.89 532.86,148.85 533.00,149.82 533.15,150.79 533.29,151.76 533.43,152.73 533.57,153.70 533.71,154.67 533.84,155.65 533.98,156.62 534.11,157.60 534.24,158.58 534.36,159.56 534.49,160.54 534.61,161.52 534.73,162.50 534.85,163.48 534.97,164.46 535.08,165.45 535.20,166.43 535.31,167.42 535.42,168.40 535.52,169.39 535.63,170.38 535.73,171.37 535.83,172.36 535.93,173.35 536.03,174.34 536.12,175.33 536.22,176.32 536.31,177.31 536.40,178.30 536.48,179.30 536.57,180.29 536.65,181.28 536.73,182.28 536.81,183.27 536.89,184.27 536.96,185.26 537.04,186.26 537.11,187.25 537.18,188.25 537.24,189.24 537.31,190.24 537.37,191.24 537.43,192.23 537.49,193.23 537.55,194.23 537.60,195.23 537.65,196.22 537.70,197.22 537.75,198.22 537.80,199.22 537.84,200.22 537.88,201.21 537.92,202.21 537.96,203.21 538.00,204.21 538.03,205.21 538.06,206.21 538.09,207.21 538.12,208.21 538.15,209.21 538.17,210.20 538.19,211.20 538.21,212.20 538.23,213.20 538.24,214.20 538.26,215.20 538.27,216.20 538.28,217.20 538.29,218.20 538.29,219.20 538.29,220.20 538.29,221.20" fill="none" stroke="#993d71" stroke-width="1.55" stroke-dasharray="9.5 2.25" stroke-linejoin="round"/>
<polyline points="334.41,221.20 334.41,220.47 334.41,219.74 334.41,219.01 334.42,218.28 334.43,217.55 334.44,216.83 334.46,216.10 334.47,215.37 334.49,214.64 334.51,213.91 334.53,213.18 334.55,212.45 334.58,211.72 334.61,210.99 334.64,210.27 334.67,209.54 334.70,208.81 334.74,208.08 334.78,207.35 334.82,206.62 334.86,205.90 334.90,205.17 334.95,204.44 335.00,203.71 335.05,202.98 335.10,202.26 335.15,201.53 335.21,200.80 335.27,200.07 335.33,199.35 335.39,198.62 335.46,197.89 335.52,197.17 335.59,196.44 335.66,195.71 335.74,194.99 335.81,194.26 335.89,193.54 335.97,192.81 336.05,192.09 336.13,191.36 336.22,190.64 336.30,189.91 336.39,189.19 336.48,188.46 336.58,187.74 336.67,187.02 336.77,186.30 336.87,185.57 336.97,184.85 337.07,184.13 337.18,183.41 337.28,182.69 337.39,181.97 337.50,181.25 337.62,180.53 337.73,179.81 337.85,179.09 337.97,178.38 338.09,177.66 338.21,176.94 338.34,176.23 338.46,175.51 338.59,174.80 338.72,174.09 338.86,173.37 338.99,172.66 339.13,171.95 339.27,171.24 339.41,170.53 339.55,169.82 339.70,169.11 339.84,168.41 339.99,167.70 340.14,167.00 340.29,166.29 340.45,165.59 340.61,164.89 340.76,164.19 340.92,163.49 341.09,162.79 341.25,162.09 341.42,161.40 341.58,160.70 341.75,160.01 341.93,159.32 342.10,158.63 342.28,157.94 342.45,157.25 342.63,156.57 342.81,155.88 343.00,155.20 343.18,154.52 343.37,153.84 343.56,153.16 343.75,152.49 343.94,151.81 344.14,151.14 344.33,150.47 344.53,149.80 344.73,149.14 344.93,148.48 345.13,147.81 345.34,147.15 345.55,146.50 345.76,145.84 345.97,145.19 346.18,144.54 346.40,143.89 346.61,143.25 346.83,142.61 347.05,141.97 347.27,141.33 347.50,140.70 347.72,140.07 347.95,139.44 348.18,138.81 348.41,138.19 348.64,137.57 348.88,136.95 349.11,136.34 349.35,135.73 349.59,135.12 349.83,134.52 350.07,133.92 350.32,133.33 350.57,132.73 350.81,132.14 351.06,131.56 351.32,130.98 351.57,130.40 351.83,129.83 352.08,129.26 352.34,128.69 352.60,128.13 352.86,127.57 353.13,127.02 353.39,126.47 353.66,125.93 353.93,125.39 354.20,124.85 354.47,124.32 354.75,123.79 355.02,123.27 355.30,122.76 355.58,122.25 355.86,121.74 356.14,121.24 356.42,120.74 356.71,120.25 356.99,119.76 357.28,119.28 357.57,118.81 357.86,118.34 358.16,117.87 358.45,117.42 358.75,116.96 359.05,116.52 359.35,116.07 359.65,115.64 359.95,115.21 360.25,114.79 360.56,114.37 360.87,113.96 361.18,113.55 361.49,113.16 361.80,112.76 362.11,112.38 362.43,112.00 362.74,111.63 363.06,111.26 363.38,110.91 363.70,110.55 364.02,110.21 364.35,109.87 364.67,109.54 365.00,109.22 365.32,108.90 365.65,108.59 365.99,108.29 366.32,108.00 366.65,107.71 366.99,107.43 367.32,107.16 367.66,106.90 368.00,106.64 368.34,106.39 368.68,106.15 369.03,105.92 369.37,105.69 369.72,105.48 370.06,105.27 370.41,105.07 370.76,104.88 371.11,104.69 371.47,104.52 371.82,104.35 372.18,104.19 372.53,104.04 372.89,103.90 373.25,103.77 373.61,103.65 373.97,103.53 374.34,103.42 374.70,103.33 375.07,103.24 375.43,103.16 375.80,103.09 376.17,103.02 376.54,102.97 376.91,102.93 377.28,102.89 377.66,102.87 378.03,102.85 378.41,102.84 378.79,102.85 379.17,102.86 379.55,102.88 379.93,102.91 380.31,102.95 380.69,102.99 381.08,103.05 381.46,103.12 381.85,103.20 382.24,103.28 382.63,103.38 383.02,103.48 383.41,103.60 383.80,103.72 384.19,103.85 384.59,104.00 384.98,104.15 385.38,104.31 385.77,104.48 386.17,104.66 386.57,104.85 386.97,105.05 387.37,105.26 387.78,105.47 388.18,105.70 388.58,105.93 388.99,106.18 389.40,106.43 389.80,106.70 390.21,106.97 390.62,107.25 391.03,107.54 391.44,107.84 391.85,108.14 392.27,108.46 392.68,108.78 393.09,109.11 393.51,109.46 393.92,109.80 394.34,110.16 394.76,110.53 395.18,110.90 395.60,111.28 396.02,111.67 396.44,112.07 396.86,112.47 397.28,112.88 397.71,113.30 398.13,113.72 398.56,114.15 398.98,114.59 399.41,115.04 399.84,115.49 400.27,115.94 400.69,116.41 401.12,116.87 401.55,117.35 401.99,117.83 402.42,118.31 402.85,118.80 403.28,119.29 403.72,119.79 404.15,120.29 404.59,120.80 405.02,121.31 405.46,121.82 405.89,122.33 406.33,122.85 406.77,123.37 407.21,123.89 407.65,124.42 408.09,124.94 408.53,125.47 408.97,126.00 409.41,126.53 409.85,127.06 410.30,127.59 410.74,128.12 411.18,128.64 411.63,129.17 412.07,129.70 412.52,130.22 412.96,130.74 413.41,131.26 413.86,131.78 414.30,132.30 414.75,132.81 415.20,133.32 415.65,133.82 416.10,134.32 416.55,134.81 417.00,135.30 417.45,135.79 417.90,136.26 418.35,136.73 418.80,137.20 419.25,137.66 419.70,138.11 420.15,138.55 420.61,138.99 421.06,139.42 421.51,139.84 421.97,140.25 422.42,140.65 422.87,141.04 423.33,141.42 423.78,141.79 424.24,142.15 424.69,142.50 425.15,142.84 425.60,143.17 426.06,143.49 426.51,143.79 426.97,144.09 427.43,144.37 427.88,144.63 428.34,144.89 428.80,145.13 429.25,145.36 429.71,145.58 430.17,145.78 430.63,145.97 431.08,146.14 431.54,146.30 432.00,146.45 432.46,146.58 432.91,146.70 433.37,146.80 433.83,146.89 434.29,146.97 434.75,147.03 435.20,147.07 435.66,147.10 436.12,147.11 436.58,147.11 437.04,147.10 437.50,147.07 437.95,147.03 438.41,146.97 438.87,146.89 439.33,146.80 439.79,146.70 440.24,146.58 440.70,146.45 441.16,146.30 441.62,146.14 442.07,145.97 442.53,145.78 442.99,145.58 443.45,145.36 443.90,145.13 444.36,144.89 444.82,144.63 445.27,144.37 445.73,144.09 446.19,143.79 446.64,143.49 447.10,143.17 447.55,142.84 448.01,142.50 448.46,142.15 448.92,141.79 449.37,141.42 449.83,141.04 450.28,140.65 450.73,140.25 451.19,139.84 451.64,139.42 452.09,138.99 452.55,138.55 453.00,138.11 453.45,137.66 453.90,137.20 454.35,136.73 454.80,136.26 455.25,135.79 455.70,135.30 456.15,134.81 456.60,134.32 457.05,133.82 457.50,133.32 457.95,132.81 458.40,132.30 458.84,131.78 459.29,131.26 459.74,130.74 460.18,130.22 460.63,129.70 461.07,129.17 461.52,128.64 461.96,128.12 462.40,127.59 462.85,127.06 463.29,126.53 463.73,126.00 464.17,125.47 464.61,124.94 465.05,124.42 465.49,123.89 465.93,123.37 466.37,122.85 466.81,122.33 467.24,121.82 467.68,121.31 468.11,120.80 468.55,120.29 468.98,119.79 469.42,119.29 469.85,118.80 470.28,118.31 470.71,117.83 471.15,117.35 471.58,116.87 472.01,116.41 472.43,115.94 472.86,115.49 473.29,115.04 473.72,114.59 474.14,114.15 474.57,113.72 474.99,113.30 475.42,112.88 475.84,112.47 476.26,112.07 476.68,111.67 477.10,111.28 477.52,110.90 477.94,110.53 478.36,110.16 478.78,109.80 479.19,109.46 479.61,109.11 480.02,108.78 480.43,108.46 480.85,108.14 481.26,107.84 481.67,107.54 482.08,107.25 482.49,106.97 482.90,106.70 483.30,106.43 483.71,106.18 484.12,105.93 484.52,105.70 484.92,105.47 485.33,105.26 485.73,105.05 486.13,104.85 486.53,104.66 486.93,104.48 487.32,104.31 487.72,104.15 488.11,104.00 488.51,103.85 488.90,103.72 489.29,103.60 489.68,103.48 490.07,103.38 490.46,103.28 490.85,103.20 491.24,103.12 491.62,103.05 492.01,102.99 492.39,102.95 492.77,102.91 493.15,102.88 493.53,102.86 493.91,102.85 494.29,102.84 494.67,102.85 495.04,102.87 495.42,102.89 495.79,102.93 496.16,102.97 496.53,103.02 496.90,103.09 497.27,103.16 497.63,103.24 498.00,103.33 498.36,103.42 498.73,103.53 499.09,103.65 499.45,103.77 499.81,103.90 500.17,104.04 500.52,104.19 500.88,104.35 501.23,104.52 501.59,104.69 501.94,104.88 502.29,105.07 502.64,105.27 502.98,105.48 503.33,105.69 503.67,105.92 504.02,106.15 504.36,106.39 504.70,106.64 505.04,106.90 505.38,107.16 505.71,107.43 506.05,107.71 506.38,108.00 506.71,108.29 507.05,108.59 507.38,108.90 507.70,109.22 508.03,109.54 508.35,109.87 508.68,110.21 509.00,110.55 509.32,110.91 509.64,111.26 509.96,111.63 510.27,112.00 510.59,112.38 510.90,112.76 511.21,113.16 511.52,113.55 511.83,113.96 512.14,114.37 512.45,114.79 512.75,115.21 513.05,115.64 513.35,116.07 513.65,116.52 513.95,116.96 514.25,117.42 514.54,117.87 514.84,118.34 515.13,118.81 515.42,119.28 515.71,119.76 515.99,120.25 516.28,120.74 516.56,121.24 516.84,121.74 517.12,122.25 517.40,122.76 517.68,123.27 517.95,123.79 518.23,124.32 518.50,124.85 518.77,125.39 519.04,125.93 519.31,126.47 519.57,127.02 519.84,127.57 520.10,128.13 520.36,128.69 520.62,129.26 520.87,129.83 521.13,130.40 521.38,130.98 521.64,131.56 521.89,132.14 522.13,132.73 522.38,133.33 522.63,133.92 522.87,134.52 523.11,135.12 523.35,135.73 523.59,136.34 523.82,136.95 524.06,137.57 524.29,138.19 524.52,138.81 524.75,139.44 524.98,140.07 525.20,140.70 525.43,141.33 525.65,141.97 525.87,142.61 526.09,143.25 526.30,143.89 526.52,144.54 526.73,145.19 526.94,145.84 527.15,146.50 527.36,147.15 527.57,147.81 527.77,148.48 527.97,149.14 528.17,149.80 528.37,150.47 528.56,151.14 528.76,151.81 528.95,152.49 529.14,153.16 529.33,153.84 529.52,154.52 529.70,155.20 529.89,155.88 530.07,156.57 530.25,157.25 530.42,157.94 530.60,158.63 530.77,159.32 530.95,160.01 531.12,160.70 531.28,161.40 531.45,162.09 531.61,162.79 531.78,163.49 531.94,164.19 532.09,164.89 532.25,165.59 532.41,166.29 532.56,167.00 532.71,167.70 532.86,168.41 533.00,169.11 533.15,169.82 533.29,170.53 533.43,171.24 533.57,171.95 533.71,172.66 533.84,173.37 533.98,174.09 534.11,174.80 534.24,175.51 534.36,176.23 534.49,176.94 534.61,177.66 534.73,178.38 534.85,179.09 534.97,179.81 535.08,180.53 535.20,181.25 535.31,181.97 535.42,182.69 535.52,183.41 535.63,184.13 535.73,184.85 535.83,185.57 535.93,186.30 536.03,187.02 536.12,187.74 536.22,188.46 536.31,189.19 536.40,189.91 536.48,190.64 536.57,191.36 536.65,192.09 536.73,192.81 536.81,193.54 536.89,194.26 536.96,194.99 537.04,195.71 537.11,196.44 537.18,197.17 537.24,197.89 537.31,198.62 537.37,199.35 537.43,200.07 537.49,200.80 537.55,201.53 537.60,202.26 537.65,202.98 537.70,203.71 537.75,204.44 537.80,205.17 537.84,205.90 537.88,206.62 537.92,207.35 537.96,208.08 538.00,208.81 538.03,209.54 538.06,210.27 538.09,210.99 538.12,211.72 538.15,212.45 538.17,213.18 538.19,213.91 538.21,214.64 538.23,215.37 538.24,216.10 538.26,216.83 538.27,217.55 538.28,218.28 538.29,219.01 538.29,219.74 538.29,220.47 538.29,221.20" fill="none" stroke="#998b3d" stroke-width="1.55" stroke-dasharray="13.8 2.2" stroke-linejoin="round"/>
<text x="316.10" y="122.80" font-size="12" text-anchor="middle">Δ</text>
<text x="436.35" y="253.70" font-size="11.5" text-anchor="middle" font-style="italic">γ</text>
<text x="436.35" y="270.10" font-size="13" text-anchor="middle"><tspan>(</tspan><tspan font-style="italic">b</tspan><tspan>)</tspan></text>
<text transform="translate(370.40,10.00) scale(1.28,1)" font-size="10.0" font-style="italic">σ</text><text transform="translate(377.80,9.90) scale(0.97,0.95)" font-size="10.7" fill="#333">=</text><text x="384.10" y="10.00" font-size="10.7">0.01,</text><text transform="translate(409.10,10.00) scale(1.32,1)" font-size="8.7" font-style="italic">ω</text><line x1="409.40" y1="3.45" x2="416.70" y2="3.45" stroke="#222" stroke-width="0.5"/><text transform="translate(416.90,9.90) scale(0.97,0.95)" font-size="10.7" fill="#333">=</text><text x="423.40" y="10.00" font-size="10.7">0.3,</text><text transform="translate(443.05,10.00) scale(1.2,1)" font-size="10.0" font-style="italic">α</text><text transform="translate(450.45,9.90) scale(0.97,0.95)" font-size="10.7" fill="#333">=</text><text x="456.75" y="10.00" font-size="10.7">0.2,0.4,0.6</text>
<path d="M38.5,313.45 H251.6 V526.4" fill="none" stroke="#b8b8b8" stroke-width="1"/>
<line x1="145.25" y1="313.45" x2="145.25" y2="526.4" stroke="#bfbfbf" stroke-width="0.8"/>
<path d="M38.5,313.45 V526.4 H251.6" fill="none" stroke="#aeaeae" stroke-width="1"/>
<text transform="translate(36.20,526.05) scale(0.9,1)" class="tk" font-size="11.0" text-anchor="end">0</text>
<text transform="translate(36.20,494.97) scale(0.9,1)" class="tk" font-size="11.0" text-anchor="end">1</text>
<text transform="translate(36.20,463.89) scale(0.9,1)" class="tk" font-size="11.0" text-anchor="end">2</text>
<text transform="translate(36.20,432.81) scale(0.9,1)" class="tk" font-size="11.0" text-anchor="end">3</text>
<text transform="translate(36.20,401.73) scale(0.9,1)" class="tk" font-size="11.0" text-anchor="end">4</text>
<text transform="translate(36.20,370.65) scale(0.9,1)" class="tk" font-size="11.0" text-anchor="end">5</text>
<text transform="translate(36.20,339.57) scale(0.9,1)" class="tk" font-size="11.0" text-anchor="end">6</text>
<path d="M38.5,522.40h3.1 M38.5,516.18h1.8 M38.5,509.97h1.8 M38.5,503.75h1.8 M38.5,497.54h1.8 M38.5,491.32h3.1 M38.5,485.10h1.8 M38.5,478.89h1.8 M38.5,472.67h1.8 M38.5,466.46h1.8 M38.5,460.24h3.1 M38.5,454.02h1.8 M38.5,447.81h1.8 M38.5,441.59h1.8 M38.5,435.38h1.8 M38.5,429.16h3.1 M38.5,422.94h1.8 M38.5,416.73h1.8 M38.5,410.51h1.8 M38.5,404.30h1.8 M38.5,398.08h3.1 M38.5,391.86h1.8 M38.5,385.65h1.8 M38.5,379.43h1.8 M38.5,373.22h1.8 M38.5,367.00h3.1 M38.5,360.78h1.8 M38.5,354.57h1.8 M38.5,348.35h1.8 M38.5,342.14h1.8 M38.5,335.92h3.1 M38.5,329.70h1.8 M38.5,323.49h1.8 M38.5,317.27h1.8 M43.01,526.4v-3.6 M68.57,526.4v-3.6 M94.13,526.4v-3.6 M119.69,526.4v-3.6 M145.25,526.4v-3.6 M170.81,526.4v-3.6 M196.37,526.4v-3.6 M221.93,526.4v-3.6 M247.49,526.4v-3.6" fill="none" stroke="#9a9a9a" stroke-width="0.7"/>
<text x="35.88" y="537.75" font-size="11.6">−</text>
<line x1="44.93" y1="535.30" x2="49.68" y2="535.30" stroke="#222" stroke-width="0.6"/>
<text x="47.31" y="533.10" font-size="7.6" text-anchor="middle" font-style="italic">π</text>
<text x="47.31" y="542.20" font-size="7.6" text-anchor="middle">2</text>
<text x="59.04" y="538.95" font-size="11.6">−</text>
<line x1="68.09" y1="536.50" x2="77.64" y2="536.50" stroke="#222" stroke-width="0.6"/>
<text x="72.87" y="534.30" font-size="7.6" text-anchor="middle">3<tspan dx="1.0" font-style="italic">π</tspan></text>
<text x="72.87" y="543.40" font-size="7.6" text-anchor="middle">8</text>
<text x="87.00" y="537.75" font-size="11.6">−</text>
<line x1="96.05" y1="535.30" x2="100.80" y2="535.30" stroke="#222" stroke-width="0.6"/>
<text x="98.43" y="533.10" font-size="7.6" text-anchor="middle" font-style="italic">π</text>
<text x="98.43" y="542.20" font-size="7.6" text-anchor="middle">4</text>
<text x="112.56" y="537.75" font-size="11.6">−</text>
<line x1="121.61" y1="535.30" x2="126.37" y2="535.30" stroke="#222" stroke-width="0.6"/>
<text x="123.99" y="533.10" font-size="7.6" text-anchor="middle" font-style="italic">π</text>
<text x="123.99" y="542.20" font-size="7.6" text-anchor="middle">8</text>
<text x="144.85" y="537.90" font-size="11.5" text-anchor="middle">0</text>
<line x1="168.43" y1="535.30" x2="173.19" y2="535.30" stroke="#222" stroke-width="0.6"/>
<text x="170.81" y="533.10" font-size="7.6" text-anchor="middle" font-style="italic">π</text>
<text x="170.81" y="542.20" font-size="7.6" text-anchor="middle">8</text>
<line x1="194.00" y1="535.30" x2="198.75" y2="535.30" stroke="#222" stroke-width="0.6"/>
<text x="196.37" y="533.10" font-size="7.6" text-anchor="middle" font-style="italic">π</text>
<text x="196.37" y="542.20" font-size="7.6" text-anchor="middle">4</text>
<line x1="217.16" y1="536.50" x2="226.71" y2="536.50" stroke="#222" stroke-width="0.6"/>
<text x="221.93" y="534.30" font-size="7.6" text-anchor="middle">3<tspan dx="1.0" font-style="italic">π</tspan></text>
<text x="221.93" y="543.40" font-size="7.6" text-anchor="middle">8</text>
<line x1="245.12" y1="535.30" x2="249.87" y2="535.30" stroke="#222" stroke-width="0.6"/>
<text x="247.49" y="533.10" font-size="7.6" text-anchor="middle" font-style="italic">π</text>
<text x="247.49" y="542.20" font-size="7.6" text-anchor="middle">2</text>
<polyline points="43.01,522.40 43.01,521.39 43.01,520.39 43.02,519.38 43.02,518.37 43.03,517.37 43.04,516.36 43.06,515.35 43.07,514.34 43.09,513.34 43.11,512.33 43.13,511.32 43.16,510.32 43.18,509.31 43.21,508.30 43.24,507.30 43.27,506.29 43.31,505.28 43.34,504.28 43.38,503.27 43.42,502.27 43.46,501.26 43.51,500.26 43.55,499.25 43.60,498.24 43.65,497.24 43.70,496.23 43.76,495.23 43.82,494.22 43.87,493.22 43.93,492.22 44.00,491.21 44.06,490.21 44.13,489.20 44.20,488.20 44.27,487.20 44.34,486.19 44.42,485.19 44.49,484.19 44.57,483.19 44.65,482.19 44.74,481.19 44.82,480.18 44.91,479.18 45.00,478.18 45.09,477.18 45.18,476.19 45.28,475.19 45.38,474.19 45.48,473.19 45.58,472.19 45.68,471.20 45.79,470.20 45.89,469.21 46.00,468.21 46.11,467.22 46.23,466.23 46.34,465.23 46.46,464.24 46.58,463.25 46.70,462.26 46.83,461.27 46.95,460.28 47.08,459.29 47.21,458.31 47.34,457.32 47.47,456.34 47.61,455.35 47.74,454.37 47.88,453.39 48.03,452.41 48.17,451.43 48.31,450.45 48.46,449.48 48.61,448.50 48.76,447.53 48.91,446.56 49.07,445.58 49.23,444.62 49.38,443.65 49.54,442.68 49.71,441.72 49.87,440.75 50.04,439.79 50.21,438.83 50.38,437.88 50.55,436.92 50.72,435.97 50.90,435.02 51.08,434.07 51.26,433.12 51.44,432.17 51.62,431.23 51.81,430.29 52.00,429.35 52.19,428.42 52.38,427.48 52.57,426.55 52.77,425.63 52.96,424.70 53.16,423.78 53.36,422.86 53.56,421.94 53.77,421.03 53.97,420.12 54.18,419.21 54.39,418.31 54.60,417.41 54.82,416.51 55.03,415.62 55.25,414.73 55.47,413.85 55.69,412.96 55.91,412.09 56.14,411.21 56.36,410.34 56.59,409.47 56.82,408.61 57.05,407.76 57.28,406.90 57.52,406.05 57.76,405.21 58.00,404.37 58.24,403.54 58.48,402.71 58.72,401.88 58.97,401.06 59.22,400.25 59.46,399.44 59.72,398.64 59.97,397.84 60.22,397.05 60.48,396.26 60.74,395.48 61.00,394.71 61.26,393.94 61.52,393.18 61.78,392.42 62.05,391.67 62.32,390.93 62.59,390.20 62.86,389.47 63.13,388.75 63.41,388.03 63.68,387.32 63.96,386.62 64.24,385.93 64.52,385.24 64.80,384.57 65.09,383.90 65.37,383.23 65.66,382.58 65.95,381.93 66.24,381.29 66.53,380.66 66.83,380.04 67.12,379.43 67.42,378.83 67.72,378.23 68.02,377.64 68.32,377.07 68.63,376.50 68.93,375.94 69.24,375.39 69.55,374.85 69.86,374.32 70.17,373.80 70.48,373.29 70.79,372.79 71.11,372.30 71.43,371.82 71.75,371.35 72.07,370.89 72.39,370.44 72.71,370.00 73.03,369.57 73.36,369.15 73.69,368.75 74.02,368.35 74.35,367.97 74.68,367.59 75.01,367.23 75.35,366.88 75.68,366.54 76.02,366.21 76.36,365.90 76.70,365.59 77.04,365.30 77.38,365.02 77.73,364.75 78.07,364.49 78.42,364.24 78.77,364.01 79.12,363.79 79.47,363.58 79.82,363.39 80.18,363.20 80.53,363.03 80.89,362.87 81.25,362.72 81.61,362.59 81.97,362.47 82.33,362.36 82.69,362.27 83.05,362.18 83.42,362.11 83.79,362.06 84.15,362.01 84.52,361.98 84.89,361.96 85.26,361.96 85.64,361.97 86.01,361.99 86.39,362.02 86.76,362.07 87.14,362.13 87.52,362.21 87.90,362.29 88.28,362.39 88.66,362.51 89.05,362.64 89.43,362.78 89.82,362.93 90.20,363.10 90.59,363.29 90.98,363.48 91.37,363.69 91.76,363.92 92.15,364.15 92.54,364.41 92.94,364.67 93.33,364.95 93.73,365.24 94.13,365.55 94.53,365.87 94.93,366.21 95.33,366.56 95.73,366.92 96.13,367.30 96.53,367.69 96.94,368.09 97.34,368.51 97.75,368.95 98.16,369.40 98.57,369.86 98.98,370.33 99.39,370.83 99.80,371.33 100.21,371.85 100.62,372.38 101.04,372.93 101.45,373.49 101.87,374.07 102.28,374.66 102.70,375.27 103.12,375.89 103.54,376.52 103.96,377.17 104.38,377.83 104.80,378.50 105.22,379.19 105.65,379.89 106.07,380.61 106.50,381.34 106.92,382.08 107.35,382.84 107.77,383.61 108.20,384.39 108.63,385.18 109.06,385.99 109.49,386.81 109.92,387.65 110.35,388.49 110.79,389.35 111.22,390.21 111.65,391.09 112.09,391.98 112.52,392.88 112.96,393.79 113.39,394.71 113.83,395.64 114.27,396.58 114.71,397.53 115.14,398.48 115.58,399.45 116.02,400.42 116.46,401.40 116.91,402.38 117.35,403.37 117.79,404.37 118.23,405.37 118.68,406.37 119.12,407.38 119.57,408.39 120.01,409.41 120.46,410.42 120.90,411.44 121.35,412.46 121.80,413.48 122.24,414.49 122.69,415.51 123.14,416.52 123.59,417.53 124.04,418.53 124.49,419.53 124.94,420.53 125.39,421.52 125.84,422.50 126.29,423.48 126.74,424.44 127.19,425.40 127.65,426.34 128.10,427.28 128.55,428.20 129.01,429.11 129.46,430.00 129.91,430.89 130.37,431.75 130.82,432.60 131.28,433.44 131.73,434.25 132.19,435.05 132.65,435.83 133.10,436.58 133.56,437.32 134.01,438.04 134.47,438.73 134.93,439.40 135.39,440.05 135.84,440.67 136.30,441.27 136.76,441.84 137.22,442.38 137.67,442.90 138.13,443.39 138.59,443.85 139.05,444.29 139.51,444.69 139.97,445.07 140.43,445.41 140.89,445.73 141.35,446.01 141.80,446.27 142.26,446.49 142.72,446.68 143.18,446.84 143.64,446.97 144.10,447.07 144.56,447.13 145.02,447.16 145.48,447.16 145.94,447.13 146.40,447.07 146.86,446.97 147.32,446.84 147.78,446.68 148.24,446.49 148.70,446.27 149.15,446.01 149.61,445.73 150.07,445.41 150.53,445.07 150.99,444.69 151.45,444.29 151.91,443.85 152.37,443.39 152.83,442.90 153.28,442.38 153.74,441.84 154.20,441.27 154.66,440.67 155.11,440.05 155.57,439.40 156.03,438.73 156.49,438.04 156.94,437.32 157.40,436.58 157.85,435.83 158.31,435.05 158.77,434.25 159.22,433.44 159.68,432.60 160.13,431.75 160.59,430.89 161.04,430.00 161.49,429.11 161.95,428.20 162.40,427.28 162.85,426.34 163.31,425.40 163.76,424.44 164.21,423.48 164.66,422.50 165.11,421.52 165.56,420.53 166.01,419.53 166.46,418.53 166.91,417.53 167.36,416.52 167.81,415.51 168.26,414.49 168.70,413.48 169.15,412.46 169.60,411.44 170.04,410.42 170.49,409.41 170.93,408.39 171.38,407.38 171.82,406.37 172.27,405.37 172.71,404.37 173.15,403.37 173.59,402.38 174.04,401.40 174.48,400.42 174.92,399.45 175.36,398.48 175.79,397.53 176.23,396.58 176.67,395.64 177.11,394.71 177.54,393.79 177.98,392.88 178.41,391.98 178.85,391.09 179.28,390.21 179.71,389.35 180.15,388.49 180.58,387.65 181.01,386.81 181.44,385.99 181.87,385.18 182.30,384.39 182.73,383.61 183.15,382.84 183.58,382.08 184.00,381.34 184.43,380.61 184.85,379.89 185.28,379.19 185.70,378.50 186.12,377.83 186.54,377.17 186.96,376.52 187.38,375.89 187.80,375.27 188.22,374.66 188.63,374.07 189.05,373.49 189.46,372.93 189.88,372.38 190.29,371.85 190.70,371.33 191.11,370.83 191.52,370.33 191.93,369.86 192.34,369.40 192.75,368.95 193.16,368.51 193.56,368.09 193.97,367.69 194.37,367.30 194.77,366.92 195.17,366.56 195.57,366.21 195.97,365.87 196.37,365.55 196.77,365.24 197.17,364.95 197.56,364.67 197.96,364.41 198.35,364.15 198.74,363.92 199.13,363.69 199.52,363.48 199.91,363.29 200.30,363.10 200.68,362.93 201.07,362.78 201.45,362.64 201.84,362.51 202.22,362.39 202.60,362.29 202.98,362.21 203.36,362.13 203.74,362.07 204.11,362.02 204.49,361.99 204.86,361.97 205.24,361.96 205.61,361.96 205.98,361.98 206.35,362.01 206.71,362.06 207.08,362.11 207.45,362.18 207.81,362.27 208.17,362.36 208.53,362.47 208.89,362.59 209.25,362.72 209.61,362.87 209.97,363.03 210.32,363.20 210.68,363.39 211.03,363.58 211.38,363.79 211.73,364.01 212.08,364.24 212.43,364.49 212.77,364.75 213.12,365.02 213.46,365.30 213.80,365.59 214.14,365.90 214.48,366.21 214.82,366.54 215.15,366.88 215.49,367.23 215.82,367.59 216.15,367.97 216.48,368.35 216.81,368.75 217.14,369.15 217.47,369.57 217.79,370.00 218.11,370.44 218.43,370.89 218.75,371.35 219.07,371.82 219.39,372.30 219.71,372.79 220.02,373.29 220.33,373.80 220.64,374.32 220.95,374.85 221.26,375.39 221.57,375.94 221.87,376.50 222.18,377.07 222.48,377.64 222.78,378.23 223.08,378.83 223.38,379.43 223.67,380.04 223.97,380.66 224.26,381.29 224.55,381.93 224.84,382.58 225.13,383.23 225.41,383.90 225.70,384.57 225.98,385.24 226.26,385.93 226.54,386.62 226.82,387.32 227.09,388.03 227.37,388.75 227.64,389.47 227.91,390.20 228.18,390.93 228.45,391.67 228.72,392.42 228.98,393.18 229.24,393.94 229.50,394.71 229.76,395.48 230.02,396.26 230.28,397.05 230.53,397.84 230.78,398.64 231.04,399.44 231.28,400.25 231.53,401.06 231.78,401.88 232.02,402.71 232.26,403.54 232.50,404.37 232.74,405.21 232.98,406.05 233.22,406.90 233.45,407.76 233.68,408.61 233.91,409.47 234.14,410.34 234.36,411.21 234.59,412.09 234.81,412.96 235.03,413.85 235.25,414.73 235.47,415.62 235.68,416.51 235.90,417.41 236.11,418.31 236.32,419.21 236.53,420.12 236.73,421.03 236.94,421.94 237.14,422.86 237.34,423.78 237.54,424.70 237.73,425.63 237.93,426.55 238.12,427.48 238.31,428.42 238.50,429.35 238.69,430.29 238.88,431.23 239.06,432.17 239.24,433.12 239.42,434.07 239.60,435.02 239.78,435.97 239.95,436.92 240.12,437.88 240.29,438.83 240.46,439.79 240.63,440.75 240.79,441.72 240.96,442.68 241.12,443.65 241.27,444.62 241.43,445.58 241.59,446.56 241.74,447.53 241.89,448.50 242.04,449.48 242.19,450.45 242.33,451.43 242.47,452.41 242.62,453.39 242.76,454.37 242.89,455.35 243.03,456.34 243.16,457.32 243.29,458.31 243.42,459.29 243.55,460.28 243.67,461.27 243.80,462.26 243.92,463.25 244.04,464.24 244.16,465.23 244.27,466.23 244.39,467.22 244.50,468.21 244.61,469.21 244.71,470.20 244.82,471.20 244.92,472.19 245.02,473.19 245.12,474.19 245.22,475.19 245.32,476.19 245.41,477.18 245.50,478.18 245.59,479.18 245.68,480.18 245.76,481.19 245.85,482.19 245.93,483.19 246.01,484.19 246.08,485.19 246.16,486.19 246.23,487.20 246.30,488.20 246.37,489.20 246.44,490.21 246.50,491.21 246.57,492.22 246.63,493.22 246.68,494.22 246.74,495.23 246.80,496.23 246.85,497.24 246.90,498.24 246.95,499.25 246.99,500.26 247.04,501.26 247.08,502.27 247.12,503.27 247.16,504.28 247.19,505.28 247.23,506.29 247.26,507.30 247.29,508.30 247.32,509.31 247.34,510.32 247.37,511.32 247.39,512.33 247.41,513.34 247.43,514.34 247.44,515.35 247.46,516.36 247.47,517.37 247.48,518.37 247.48,519.38 247.49,520.39 247.49,521.39 247.49,522.40" fill="none" stroke="#3f3d99" stroke-width="1.55" stroke-dasharray="5.4 2.33" stroke-linejoin="round"/>
<polyline points="43.01,522.40 43.01,521.23 43.01,520.06 43.02,518.89 43.02,517.71 43.03,516.54 43.04,515.37 43.06,514.20 43.07,513.03 43.09,511.86 43.11,510.69 43.13,509.51 43.16,508.34 43.18,507.17 43.21,506.00 43.24,504.83 43.27,503.66 43.31,502.49 43.34,501.32 43.38,500.15 43.42,498.98 43.46,497.81 43.51,496.64 43.55,495.47 43.60,494.30 43.65,493.13 43.70,491.96 43.76,490.79 43.82,489.62 43.87,488.45 43.93,487.29 44.00,486.12 44.06,484.95 44.13,483.78 44.20,482.62 44.27,481.45 44.34,480.28 44.42,479.12 44.49,477.95 44.57,476.79 44.65,475.63 44.74,474.46 44.82,473.30 44.91,472.14 45.00,470.98 45.09,469.81 45.18,468.65 45.28,467.50 45.38,466.34 45.48,465.18 45.58,464.02 45.68,462.87 45.79,461.71 45.89,460.56 46.00,459.40 46.11,458.25 46.23,457.10 46.34,455.95 46.46,454.80 46.58,453.65 46.70,452.51 46.83,451.36 46.95,450.22 47.08,449.08 47.21,447.94 47.34,446.80 47.47,445.66 47.61,444.53 47.74,443.39 47.88,442.26 48.03,441.13 48.17,440.00 48.31,438.88 48.46,437.75 48.61,436.63 48.76,435.51 48.91,434.40 49.07,433.28 49.23,432.17 49.38,431.06 49.54,429.95 49.71,428.85 49.87,427.75 50.04,426.65 50.21,425.55 50.38,424.46 50.55,423.37 50.72,422.28 50.90,421.20 51.08,420.12 51.26,419.04 51.44,417.97 51.62,416.90 51.81,415.84 52.00,414.77 52.19,413.72 52.38,412.66 52.57,411.61 52.77,410.56 52.96,409.52 53.16,408.48 53.36,407.45 53.56,406.42 53.77,405.40 53.97,404.38 54.18,403.36 54.39,402.35 54.60,401.35 54.82,400.35 55.03,399.35 55.25,398.36 55.47,397.38 55.69,396.40 55.91,395.42 56.14,394.46 56.36,393.49 56.59,392.54 56.82,391.58 57.05,390.64 57.28,389.70 57.52,388.76 57.76,387.84 58.00,386.91 58.24,386.00 58.48,385.09 58.72,384.19 58.97,383.29 59.22,382.40 59.46,381.52 59.72,380.64 59.97,379.77 60.22,378.90 60.48,378.05 60.74,377.20 61.00,376.36 61.26,375.52 61.52,374.69 61.78,373.87 62.05,373.06 62.32,372.25 62.59,371.45 62.86,370.66 63.13,369.88 63.41,369.10 63.68,368.33 63.96,367.57 64.24,366.82 64.52,366.08 64.80,365.34 65.09,364.61 65.37,363.89 65.66,363.18 65.95,362.48 66.24,361.78 66.53,361.10 66.83,360.42 67.12,359.75 67.42,359.09 67.72,358.44 68.02,357.80 68.32,357.17 68.63,356.54 68.93,355.93 69.24,355.33 69.55,354.73 69.86,354.15 70.17,353.57 70.48,353.01 70.79,352.45 71.11,351.91 71.43,351.38 71.75,350.85 72.07,350.34 72.39,349.84 72.71,349.35 73.03,348.87 73.36,348.41 73.69,347.95 74.02,347.51 74.35,347.08 74.68,346.66 75.01,346.25 75.35,345.86 75.68,345.48 76.02,345.11 76.36,344.75 76.70,344.41 77.04,344.08 77.38,343.76 77.73,343.46 78.07,343.18 78.42,342.90 78.77,342.64 79.12,342.40 79.47,342.17 79.82,341.96 80.18,341.76 80.53,341.57 80.89,341.41 81.25,341.25 81.61,341.12 81.97,341.00 82.33,340.89 82.69,340.80 83.05,340.73 83.42,340.68 83.79,340.64 84.15,340.62 84.52,340.61 84.89,340.62 85.26,340.65 85.64,340.70 86.01,340.76 86.39,340.85 86.76,340.94 87.14,341.06 87.52,341.19 87.90,341.35 88.28,341.52 88.66,341.70 89.05,341.91 89.43,342.13 89.82,342.37 90.20,342.62 90.59,342.90 90.98,343.19 91.37,343.50 91.76,343.83 92.15,344.17 92.54,344.53 92.94,344.91 93.33,345.30 93.73,345.72 94.13,346.14 94.53,346.59 94.93,347.05 95.33,347.53 95.73,348.02 96.13,348.53 96.53,349.06 96.94,349.60 97.34,350.15 97.75,350.73 98.16,351.31 98.57,351.92 98.98,352.54 99.39,353.17 99.80,353.82 100.21,354.48 100.62,355.15 101.04,355.84 101.45,356.55 101.87,357.27 102.28,358.00 102.70,358.75 103.12,359.51 103.54,360.29 103.96,361.07 104.38,361.88 104.80,362.69 105.22,363.52 105.65,364.36 106.07,365.22 106.50,366.09 106.92,366.97 107.35,367.86 107.77,368.77 108.20,369.69 108.63,370.63 109.06,371.57 109.49,372.53 109.92,373.51 110.35,374.49 110.79,375.49 111.22,376.51 111.65,377.53 112.09,378.57 112.52,379.62 112.96,380.68 113.39,381.76 113.83,382.85 114.27,383.95 114.71,385.06 115.14,386.19 115.58,387.32 116.02,388.47 116.46,389.63 116.91,390.80 117.35,391.99 117.79,393.18 118.23,394.38 118.68,395.59 119.12,396.81 119.57,398.04 120.01,399.28 120.46,400.53 120.90,401.78 121.35,403.04 121.80,404.30 122.24,405.57 122.69,406.85 123.14,408.13 123.59,409.41 124.04,410.69 124.49,411.97 124.94,413.26 125.39,414.54 125.84,415.82 126.29,417.09 126.74,418.36 127.19,419.63 127.65,420.89 128.10,422.14 128.55,423.38 129.01,424.61 129.46,425.83 129.91,427.03 130.37,428.22 130.82,429.39 131.28,430.55 131.73,431.68 132.19,432.80 132.65,433.89 133.10,434.96 133.56,436.01 134.01,437.02 134.47,438.02 134.93,438.98 135.39,439.91 135.84,440.81 136.30,441.67 136.76,442.50 137.22,443.30 137.67,444.06 138.13,444.78 138.59,445.46 139.05,446.10 139.51,446.70 139.97,447.26 140.43,447.77 140.89,448.24 141.35,448.67 141.80,449.05 142.26,449.38 142.72,449.67 143.18,449.91 143.64,450.10 144.10,450.25 144.56,450.35 145.02,450.39 145.48,450.39 145.94,450.35 146.40,450.25 146.86,450.10 147.32,449.91 147.78,449.67 148.24,449.38 148.70,449.05 149.15,448.67 149.61,448.24 150.07,447.77 150.53,447.26 150.99,446.70 151.45,446.10 151.91,445.46 152.37,444.78 152.83,444.06 153.28,443.30 153.74,442.50 154.20,441.67 154.66,440.81 155.11,439.91 155.57,438.98 156.03,438.02 156.49,437.02 156.94,436.01 157.40,434.96 157.85,433.89 158.31,432.80 158.77,431.68 159.22,430.55 159.68,429.39 160.13,428.22 160.59,427.03 161.04,425.83 161.49,424.61 161.95,423.38 162.40,422.14 162.85,420.89 163.31,419.63 163.76,418.36 164.21,417.09 164.66,415.82 165.11,414.54 165.56,413.26 166.01,411.97 166.46,410.69 166.91,409.41 167.36,408.13 167.81,406.85 168.26,405.57 168.70,404.30 169.15,403.04 169.60,401.78 170.04,400.53 170.49,399.28 170.93,398.04 171.38,396.81 171.82,395.59 172.27,394.38 172.71,393.18 173.15,391.99 173.59,390.80 174.04,389.63 174.48,388.47 174.92,387.32 175.36,386.19 175.79,385.06 176.23,383.95 176.67,382.85 177.11,381.76 177.54,380.68 177.98,379.62 178.41,378.57 178.85,377.53 179.28,376.51 179.71,375.49 180.15,374.49 180.58,373.51 181.01,372.53 181.44,371.57 181.87,370.63 182.30,369.69 182.73,368.77 183.15,367.86 183.58,366.97 184.00,366.09 184.43,365.22 184.85,364.36 185.28,363.52 185.70,362.69 186.12,361.88 186.54,361.07 186.96,360.29 187.38,359.51 187.80,358.75 188.22,358.00 188.63,357.27 189.05,356.55 189.46,355.84 189.88,355.15 190.29,354.48 190.70,353.82 191.11,353.17 191.52,352.54 191.93,351.92 192.34,351.31 192.75,350.73 193.16,350.15 193.56,349.60 193.97,349.06 194.37,348.53 194.77,348.02 195.17,347.53 195.57,347.05 195.97,346.59 196.37,346.14 196.77,345.72 197.17,345.30 197.56,344.91 197.96,344.53 198.35,344.17 198.74,343.83 199.13,343.50 199.52,343.19 199.91,342.90 200.30,342.62 200.68,342.37 201.07,342.13 201.45,341.91 201.84,341.70 202.22,341.52 202.60,341.35 202.98,341.19 203.36,341.06 203.74,340.94 204.11,340.85 204.49,340.76 204.86,340.70 205.24,340.65 205.61,340.62 205.98,340.61 206.35,340.62 206.71,340.64 207.08,340.68 207.45,340.73 207.81,340.80 208.17,340.89 208.53,341.00 208.89,341.12 209.25,341.25 209.61,341.41 209.97,341.57 210.32,341.76 210.68,341.96 211.03,342.17 211.38,342.40 211.73,342.64 212.08,342.90 212.43,343.18 212.77,343.46 213.12,343.76 213.46,344.08 213.80,344.41 214.14,344.75 214.48,345.11 214.82,345.48 215.15,345.86 215.49,346.25 215.82,346.66 216.15,347.08 216.48,347.51 216.81,347.95 217.14,348.41 217.47,348.87 217.79,349.35 218.11,349.84 218.43,350.34 218.75,350.85 219.07,351.38 219.39,351.91 219.71,352.45 220.02,353.01 220.33,353.57 220.64,354.15 220.95,354.73 221.26,355.33 221.57,355.93 221.87,356.54 222.18,357.17 222.48,357.80 222.78,358.44 223.08,359.09 223.38,359.75 223.67,360.42 223.97,361.10 224.26,361.78 224.55,362.48 224.84,363.18 225.13,363.89 225.41,364.61 225.70,365.34 225.98,366.08 226.26,366.82 226.54,367.57 226.82,368.33 227.09,369.10 227.37,369.88 227.64,370.66 227.91,371.45 228.18,372.25 228.45,373.06 228.72,373.87 228.98,374.69 229.24,375.52 229.50,376.36 229.76,377.20 230.02,378.05 230.28,378.90 230.53,379.77 230.78,380.64 231.04,381.52 231.28,382.40 231.53,383.29 231.78,384.19 232.02,385.09 232.26,386.00 232.50,386.91 232.74,387.84 232.98,388.76 233.22,389.70 233.45,390.64 233.68,391.58 233.91,392.54 234.14,393.49 234.36,394.46 234.59,395.42 234.81,396.40 235.03,397.38 235.25,398.36 235.47,399.35 235.68,400.35 235.90,401.35 236.11,402.35 236.32,403.36 236.53,404.38 236.73,405.40 236.94,406.42 237.14,407.45 237.34,408.48 237.54,409.52 237.73,410.56 237.93,411.61 238.12,412.66 238.31,413.72 238.50,414.77 238.69,415.84 238.88,416.90 239.06,417.97 239.24,419.04 239.42,420.12 239.60,421.20 239.78,422.28 239.95,423.37 240.12,424.46 240.29,425.55 240.46,426.65 240.63,427.75 240.79,428.85 240.96,429.95 241.12,431.06 241.27,432.17 241.43,433.28 241.59,434.40 241.74,435.51 241.89,436.63 242.04,437.75 242.19,438.88 242.33,440.00 242.47,441.13 242.62,442.26 242.76,443.39 242.89,444.53 243.03,445.66 243.16,446.80 243.29,447.94 243.42,449.08 243.55,450.22 243.67,451.36 243.80,452.51 243.92,453.65 244.04,454.80 244.16,455.95 244.27,457.10 244.39,458.25 244.50,459.40 244.61,460.56 244.71,461.71 244.82,462.87 244.92,464.02 245.02,465.18 245.12,466.34 245.22,467.50 245.32,468.65 245.41,469.81 245.50,470.98 245.59,472.14 245.68,473.30 245.76,474.46 245.85,475.63 245.93,476.79 246.01,477.95 246.08,479.12 246.16,480.28 246.23,481.45 246.30,482.62 246.37,483.78 246.44,484.95 246.50,486.12 246.57,487.29 246.63,488.45 246.68,489.62 246.74,490.79 246.80,491.96 246.85,493.13 246.90,494.30 246.95,495.47 246.99,496.64 247.04,497.81 247.08,498.98 247.12,500.15 247.16,501.32 247.19,502.49 247.23,503.66 247.26,504.83 247.29,506.00 247.32,507.17 247.34,508.34 247.37,509.51 247.39,510.69 247.41,511.86 247.43,513.03 247.44,514.20 247.46,515.37 247.47,516.54 247.48,517.71 247.48,518.89 247.49,520.06 247.49,521.23 247.49,522.40" fill="none" stroke="#993d71" stroke-width="1.55" stroke-dasharray="9.5 2.25" stroke-linejoin="round"/>
<polyline points="43.01,522.40 43.01,521.06 43.01,519.72 43.02,518.37 43.02,517.03 43.03,515.69 43.04,514.35 43.06,513.01 43.07,511.67 43.09,510.33 43.11,508.98 43.13,507.64 43.16,506.30 43.18,504.96 43.21,503.62 43.24,502.28 43.27,500.94 43.31,499.60 43.34,498.26 43.38,496.92 43.42,495.58 43.46,494.24 43.51,492.90 43.55,491.56 43.60,490.22 43.65,488.88 43.70,487.54 43.76,486.20 43.82,484.86 43.87,483.52 43.93,482.19 44.00,480.85 44.06,479.51 44.13,478.18 44.20,476.84 44.27,475.50 44.34,474.17 44.42,472.84 44.49,471.50 44.57,470.17 44.65,468.84 44.74,467.50 44.82,466.17 44.91,464.84 45.00,463.51 45.09,462.18 45.18,460.86 45.28,459.53 45.38,458.20 45.48,456.88 45.58,455.55 45.68,454.23 45.79,452.91 45.89,451.59 46.00,450.27 46.11,448.95 46.23,447.64 46.34,446.32 46.46,445.01 46.58,443.70 46.70,442.39 46.83,441.08 46.95,439.77 47.08,438.47 47.21,437.16 47.34,435.86 47.47,434.57 47.61,433.27 47.74,431.97 47.88,430.68 48.03,429.39 48.17,428.11 48.31,426.82 48.46,425.54 48.61,424.26 48.76,422.98 48.91,421.71 49.07,420.44 49.23,419.17 49.38,417.91 49.54,416.65 49.71,415.39 49.87,414.14 50.04,412.89 50.21,411.64 50.38,410.40 50.55,409.16 50.72,407.93 50.90,406.70 51.08,405.47 51.26,404.25 51.44,403.03 51.62,401.82 51.81,400.61 52.00,399.41 52.19,398.21 52.38,397.01 52.57,395.82 52.77,394.64 52.96,393.46 53.16,392.29 53.36,391.12 53.56,389.96 53.77,388.80 53.97,387.65 54.18,386.51 54.39,385.37 54.60,384.24 54.82,383.11 55.03,381.99 55.25,380.88 55.47,379.77 55.69,378.67 55.91,377.57 56.14,376.49 56.36,375.41 56.59,374.33 56.82,373.27 57.05,372.21 57.28,371.15 57.52,370.11 57.76,369.07 58.00,368.04 58.24,367.02 58.48,366.00 58.72,365.00 58.97,364.00 59.22,363.00 59.46,362.02 59.72,361.04 59.97,360.07 60.22,359.11 60.48,358.16 60.74,357.22 61.00,356.28 61.26,355.36 61.52,354.44 61.78,353.53 62.05,352.63 62.32,351.73 62.59,350.85 62.86,349.97 63.13,349.11 63.41,348.25 63.68,347.40 63.96,346.56 64.24,345.73 64.52,344.91 64.80,344.10 65.09,343.29 65.37,342.50 65.66,341.71 65.95,340.94 66.24,340.18 66.53,339.42 66.83,338.68 67.12,337.94 67.42,337.21 67.72,336.50 68.02,335.79 68.32,335.10 68.63,334.42 68.93,333.74 69.24,333.08 69.55,332.43 69.86,331.79 70.17,331.16 70.48,330.54 70.79,329.93 71.11,329.34 71.43,328.76 71.75,328.18 72.07,327.62 72.39,327.08 72.71,326.54 73.03,326.02 73.36,325.51 73.69,325.02 74.02,324.54 74.35,324.07 74.68,323.61 75.01,323.17 75.35,322.75 75.68,322.33 76.02,321.94 76.36,321.55 76.70,321.19 77.04,320.83 77.38,320.50 77.73,320.18 78.07,319.87 78.42,319.58 78.77,319.31 79.12,319.06 79.47,318.82 79.82,318.60 80.18,318.39 80.53,318.21 80.89,318.04 81.25,317.89 81.61,317.76 81.97,317.65 82.33,317.55 82.69,317.48 83.05,317.42 83.42,317.39 83.79,317.37 84.15,317.37 84.52,317.39 84.89,317.43 85.26,317.49 85.64,317.58 86.01,317.68 86.39,317.80 86.76,317.94 87.14,318.10 87.52,318.28 87.90,318.48 88.28,318.71 88.66,318.95 89.05,319.21 89.43,319.49 89.82,319.80 90.20,320.12 90.59,320.46 90.98,320.82 91.37,321.21 91.76,321.61 92.15,322.03 92.54,322.47 92.94,322.93 93.33,323.41 93.73,323.91 94.13,324.42 94.53,324.96 94.93,325.51 95.33,326.08 95.73,326.67 96.13,327.28 96.53,327.91 96.94,328.55 97.34,329.21 97.75,329.89 98.16,330.58 98.57,331.29 98.98,332.02 99.39,332.76 99.80,333.52 100.21,334.30 100.62,335.09 101.04,335.90 101.45,336.72 101.87,337.56 102.28,338.42 102.70,339.29 103.12,340.17 103.54,341.08 103.96,341.99 104.38,342.93 104.80,343.88 105.22,344.84 105.65,345.82 106.07,346.82 106.50,347.83 106.92,348.85 107.35,349.90 107.77,350.96 108.20,352.03 108.63,353.13 109.06,354.23 109.49,355.36 109.92,356.50 110.35,357.66 110.79,358.83 111.22,360.03 111.65,361.24 112.09,362.47 112.52,363.71 112.96,364.97 113.39,366.25 113.83,367.55 114.27,368.87 114.71,370.20 115.14,371.55 115.58,372.92 116.02,374.30 116.46,375.70 116.91,377.12 117.35,378.56 117.79,380.01 118.23,381.48 118.68,382.97 119.12,384.47 119.57,385.98 120.01,387.51 120.46,389.06 120.90,390.61 121.35,392.18 121.80,393.76 122.24,395.35 122.69,396.95 123.14,398.56 123.59,400.18 124.04,401.80 124.49,403.43 124.94,405.06 125.39,406.69 125.84,408.33 126.29,409.96 126.74,411.59 127.19,413.22 127.65,414.84 128.10,416.46 128.55,418.06 129.01,419.66 129.46,421.24 129.91,422.81 130.37,424.36 130.82,425.89 131.28,427.40 131.73,428.89 132.19,430.36 132.65,431.80 133.10,433.20 133.56,434.58 134.01,435.93 134.47,437.24 134.93,438.51 135.39,439.75 135.84,440.94 136.30,442.09 136.76,443.20 137.22,444.26 137.67,445.27 138.13,446.23 138.59,447.14 139.05,448.00 139.51,448.80 139.97,449.55 140.43,450.24 140.89,450.87 141.35,451.44 141.80,451.95 142.26,452.40 142.72,452.78 143.18,453.10 143.64,453.36 144.10,453.56 144.56,453.69 145.02,453.75 145.48,453.75 145.94,453.69 146.40,453.56 146.86,453.36 147.32,453.10 147.78,452.78 148.24,452.40 148.70,451.95 149.15,451.44 149.61,450.87 150.07,450.24 150.53,449.55 150.99,448.80 151.45,448.00 151.91,447.14 152.37,446.23 152.83,445.27 153.28,444.26 153.74,443.20 154.20,442.09 154.66,440.94 155.11,439.75 155.57,438.51 156.03,437.24 156.49,435.93 156.94,434.58 157.40,433.20 157.85,431.80 158.31,430.36 158.77,428.89 159.22,427.40 159.68,425.89 160.13,424.36 160.59,422.81 161.04,421.24 161.49,419.66 161.95,418.06 162.40,416.46 162.85,414.84 163.31,413.22 163.76,411.59 164.21,409.96 164.66,408.33 165.11,406.69 165.56,405.06 166.01,403.43 166.46,401.80 166.91,400.18 167.36,398.56 167.81,396.95 168.26,395.35 168.70,393.76 169.15,392.18 169.60,390.61 170.04,389.06 170.49,387.51 170.93,385.98 171.38,384.47 171.82,382.97 172.27,381.48 172.71,380.01 173.15,378.56 173.59,377.12 174.04,375.70 174.48,374.30 174.92,372.92 175.36,371.55 175.79,370.20 176.23,368.87 176.67,367.55 177.11,366.25 177.54,364.97 177.98,363.71 178.41,362.47 178.85,361.24 179.28,360.03 179.71,358.83 180.15,357.66 180.58,356.50 181.01,355.36 181.44,354.23 181.87,353.13 182.30,352.03 182.73,350.96 183.15,349.90 183.58,348.85 184.00,347.83 184.43,346.82 184.85,345.82 185.28,344.84 185.70,343.88 186.12,342.93 186.54,341.99 186.96,341.08 187.38,340.17 187.80,339.29 188.22,338.42 188.63,337.56 189.05,336.72 189.46,335.90 189.88,335.09 190.29,334.30 190.70,333.52 191.11,332.76 191.52,332.02 191.93,331.29 192.34,330.58 192.75,329.89 193.16,329.21 193.56,328.55 193.97,327.91 194.37,327.28 194.77,326.67 195.17,326.08 195.57,325.51 195.97,324.96 196.37,324.42 196.77,323.91 197.17,323.41 197.56,322.93 197.96,322.47 198.35,322.03 198.74,321.61 199.13,321.21 199.52,320.82 199.91,320.46 200.30,320.12 200.68,319.80 201.07,319.49 201.45,319.21 201.84,318.95 202.22,318.71 202.60,318.48 202.98,318.28 203.36,318.10 203.74,317.94 204.11,317.80 204.49,317.68 204.86,317.58 205.24,317.49 205.61,317.43 205.98,317.39 206.35,317.37 206.71,317.37 207.08,317.39 207.45,317.42 207.81,317.48 208.17,317.55 208.53,317.65 208.89,317.76 209.25,317.89 209.61,318.04 209.97,318.21 210.32,318.39 210.68,318.60 211.03,318.82 211.38,319.06 211.73,319.31 212.08,319.58 212.43,319.87 212.77,320.18 213.12,320.50 213.46,320.83 213.80,321.19 214.14,321.55 214.48,321.94 214.82,322.33 215.15,322.75 215.49,323.17 215.82,323.61 216.15,324.07 216.48,324.54 216.81,325.02 217.14,325.51 217.47,326.02 217.79,326.54 218.11,327.08 218.43,327.62 218.75,328.18 219.07,328.76 219.39,329.34 219.71,329.93 220.02,330.54 220.33,331.16 220.64,331.79 220.95,332.43 221.26,333.08 221.57,333.74 221.87,334.42 222.18,335.10 222.48,335.79 222.78,336.50 223.08,337.21 223.38,337.94 223.67,338.68 223.97,339.42 224.26,340.18 224.55,340.94 224.84,341.71 225.13,342.50 225.41,343.29 225.70,344.10 225.98,344.91 226.26,345.73 226.54,346.56 226.82,347.40 227.09,348.25 227.37,349.11 227.64,349.97 227.91,350.85 228.18,351.73 228.45,352.63 228.72,353.53 228.98,354.44 229.24,355.36 229.50,356.28 229.76,357.22 230.02,358.16 230.28,359.11 230.53,360.07 230.78,361.04 231.04,362.02 231.28,363.00 231.53,364.00 231.78,365.00 232.02,366.00 232.26,367.02 232.50,368.04 232.74,369.07 232.98,370.11 233.22,371.15 233.45,372.21 233.68,373.27 233.91,374.33 234.14,375.41 234.36,376.49 234.59,377.57 234.81,378.67 235.03,379.77 235.25,380.88 235.47,381.99 235.68,383.11 235.90,384.24 236.11,385.37 236.32,386.51 236.53,387.65 236.73,388.80 236.94,389.96 237.14,391.12 237.34,392.29 237.54,393.46 237.73,394.64 237.93,395.82 238.12,397.01 238.31,398.21 238.50,399.41 238.69,400.61 238.88,401.82 239.06,403.03 239.24,404.25 239.42,405.47 239.60,406.70 239.78,407.93 239.95,409.16 240.12,410.40 240.29,411.64 240.46,412.89 240.63,414.14 240.79,415.39 240.96,416.65 241.12,417.91 241.27,419.17 241.43,420.44 241.59,421.71 241.74,422.98 241.89,424.26 242.04,425.54 242.19,426.82 242.33,428.11 242.47,429.39 242.62,430.68 242.76,431.97 242.89,433.27 243.03,434.57 243.16,435.86 243.29,437.16 243.42,438.47 243.55,439.77 243.67,441.08 243.80,442.39 243.92,443.70 244.04,445.01 244.16,446.32 244.27,447.64 244.39,448.95 244.50,450.27 244.61,451.59 244.71,452.91 244.82,454.23 244.92,455.55 245.02,456.88 245.12,458.20 245.22,459.53 245.32,460.86 245.41,462.18 245.50,463.51 245.59,464.84 245.68,466.17 245.76,467.50 245.85,468.84 245.93,470.17 246.01,471.50 246.08,472.84 246.16,474.17 246.23,475.50 246.30,476.84 246.37,478.18 246.44,479.51 246.50,480.85 246.57,482.19 246.63,483.52 246.68,484.86 246.74,486.20 246.80,487.54 246.85,488.88 246.90,490.22 246.95,491.56 246.99,492.90 247.04,494.24 247.08,495.58 247.12,496.92 247.16,498.26 247.19,499.60 247.23,500.94 247.26,502.28 247.29,503.62 247.32,504.96 247.34,506.30 247.37,507.64 247.39,508.98 247.41,510.33 247.43,511.67 247.44,513.01 247.46,514.35 247.47,515.69 247.48,517.03 247.48,518.37 247.49,519.72 247.49,521.06 247.49,522.40" fill="none" stroke="#998b3d" stroke-width="1.55" stroke-dasharray="13.8 2.2" stroke-linejoin="round"/>
<text x="24.60" y="422.92" font-size="12" text-anchor="middle">Δ</text>
<text x="145.25" y="553.90" font-size="11.5" text-anchor="middle" font-style="italic">γ</text>
<text x="145.25" y="570.30" font-size="13" text-anchor="middle"><tspan>(</tspan><tspan font-style="italic">c</tspan><tspan>)</tspan></text>
<text transform="translate(79.40,310.90) scale(1.28,1)" font-size="10.0" font-style="italic">σ</text><text transform="translate(86.80,310.80) scale(0.97,0.95)" font-size="10.7" fill="#333">=</text><text x="93.10" y="310.90" font-size="10.7">0.01,0.1,0.2,</text><text transform="translate(150.20,310.90) scale(1.32,1)" font-size="8.7" font-style="italic">ω</text><line x1="150.50" y1="304.35" x2="157.80" y2="304.35" stroke="#222" stroke-width="0.5"/><text transform="translate(158.00,310.80) scale(0.97,0.95)" font-size="10.7" fill="#333">=</text><text x="164.50" y="310.90" font-size="10.7">0.3,</text><text transform="translate(184.15,310.90) scale(1.2,1)" font-size="10.0" font-style="italic">α</text><text transform="translate(191.55,310.80) scale(0.97,0.95)" font-size="10.7" fill="#333">=</text><text x="197.85" y="310.90" font-size="10.7">0.1</text>
<path d="M332.45,318.1 H540.5 V525.4" fill="none" stroke="#b8b8b8" stroke-width="1"/>
<line x1="436.35" y1="318.1" x2="436.35" y2="525.4" stroke="#bfbfbf" stroke-width="0.8"/>
<path d="M332.45,318.1 V525.4 H540.5" fill="none" stroke="#aeaeae" stroke-width="1"/>
<text transform="translate(330.15,524.75) scale(0.9,1)" class="tk" font-size="11.0" text-anchor="end">0</text>
<text transform="translate(330.15,491.12) scale(0.9,1)" class="tk" font-size="11.0" text-anchor="end">1</text>
<text transform="translate(330.15,457.49) scale(0.9,1)" class="tk" font-size="11.0" text-anchor="end">2</text>
<text transform="translate(330.15,423.86) scale(0.9,1)" class="tk" font-size="11.0" text-anchor="end">3</text>
<text transform="translate(330.15,390.23) scale(0.9,1)" class="tk" font-size="11.0" text-anchor="end">4</text>
<text transform="translate(330.15,356.60) scale(0.9,1)" class="tk" font-size="11.0" text-anchor="end">5</text>
<text transform="translate(330.15,322.97) scale(0.9,1)" class="tk" font-size="11.0" text-anchor="end">6</text>
<path d="M332.45,521.10h3.1 M332.45,514.37h1.8 M332.45,507.65h1.8 M332.45,500.92h1.8 M332.45,494.20h1.8 M332.45,487.47h3.1 M332.45,480.74h1.8 M332.45,474.02h1.8 M332.45,467.29h1.8 M332.45,460.57h1.8 M332.45,453.84h3.1 M332.45,447.11h1.8 M332.45,440.39h1.8 M332.45,433.66h1.8 M332.45,426.94h1.8 M332.45,420.21h3.1 M332.45,413.48h1.8 M332.45,406.76h1.8 M332.45,400.03h1.8 M332.45,393.31h1.8 M332.45,386.58h3.1 M332.45,379.85h1.8 M332.45,373.13h1.8 M332.45,366.40h1.8 M332.45,359.68h1.8 M332.45,352.95h3.1 M332.45,346.22h1.8 M332.45,339.50h1.8 M332.45,332.77h1.8 M332.45,326.05h1.8 M332.45,319.32h3.1 M336.68,525.4v-3.6 M361.60,525.4v-3.6 M386.52,525.4v-3.6 M411.43,525.4v-3.6 M436.35,525.4v-3.6 M461.27,525.4v-3.6 M486.18,525.4v-3.6 M511.10,525.4v-3.6 M536.02,525.4v-3.6" fill="none" stroke="#9a9a9a" stroke-width="0.7"/>
<text x="329.56" y="537.75" font-size="11.6">−</text>
<line x1="338.61" y1="535.30" x2="343.36" y2="535.30" stroke="#222" stroke-width="0.6"/>
<text x="340.98" y="533.10" font-size="7.6" text-anchor="middle" font-style="italic">π</text>
<text x="340.98" y="542.20" font-size="7.6" text-anchor="middle">2</text>
<text x="352.07" y="538.95" font-size="11.6">−</text>
<line x1="361.12" y1="536.50" x2="370.68" y2="536.50" stroke="#222" stroke-width="0.6"/>
<text x="365.90" y="534.30" font-size="7.6" text-anchor="middle">3<tspan dx="1.0" font-style="italic">π</tspan></text>
<text x="365.90" y="543.40" font-size="7.6" text-anchor="middle">8</text>
<text x="379.39" y="537.75" font-size="11.6">−</text>
<line x1="388.44" y1="535.30" x2="393.19" y2="535.30" stroke="#222" stroke-width="0.6"/>
<text x="390.82" y="533.10" font-size="7.6" text-anchor="middle" font-style="italic">π</text>
<text x="390.82" y="542.20" font-size="7.6" text-anchor="middle">4</text>
<text x="404.31" y="537.75" font-size="11.6">−</text>
<line x1="413.36" y1="535.30" x2="418.11" y2="535.30" stroke="#222" stroke-width="0.6"/>
<text x="415.73" y="533.10" font-size="7.6" text-anchor="middle" font-style="italic">π</text>
<text x="415.73" y="542.20" font-size="7.6" text-anchor="middle">8</text>
<text x="435.95" y="537.90" font-size="11.5" text-anchor="middle">0</text>
<line x1="458.89" y1="535.30" x2="463.64" y2="535.30" stroke="#222" stroke-width="0.6"/>
<text x="461.27" y="533.10" font-size="7.6" text-anchor="middle" font-style="italic">π</text>
<text x="461.27" y="542.20" font-size="7.6" text-anchor="middle">8</text>
<line x1="483.81" y1="535.30" x2="488.56" y2="535.30" stroke="#222" stroke-width="0.6"/>
<text x="486.18" y="533.10" font-size="7.6" text-anchor="middle" font-style="italic">π</text>
<text x="486.18" y="542.20" font-size="7.6" text-anchor="middle">4</text>
<line x1="506.32" y1="536.50" x2="515.88" y2="536.50" stroke="#222" stroke-width="0.6"/>
<text x="511.10" y="534.30" font-size="7.6" text-anchor="middle">3<tspan dx="1.0" font-style="italic">π</tspan></text>
<text x="511.10" y="543.40" font-size="7.6" text-anchor="middle">8</text>
<line x1="533.64" y1="535.30" x2="538.39" y2="535.30" stroke="#222" stroke-width="0.6"/>
<text x="536.02" y="533.10" font-size="7.6" text-anchor="middle" font-style="italic">π</text>
<text x="536.02" y="542.20" font-size="7.6" text-anchor="middle">2</text>
<polyline points="336.68,521.60 336.68,520.50 336.69,519.39 336.69,518.29 336.70,517.19 336.71,516.08 336.72,514.98 336.73,513.87 336.75,512.77 336.76,511.67 336.78,510.56 336.80,509.46 336.83,508.36 336.85,507.25 336.88,506.15 336.91,505.05 336.94,503.95 336.97,502.84 337.01,501.74 337.05,500.64 337.09,499.54 337.13,498.43 337.17,497.33 337.22,496.23 337.26,495.13 337.31,494.03 337.36,492.92 337.42,491.82 337.47,490.72 337.53,489.62 337.59,488.52 337.65,487.42 337.71,486.32 337.78,485.22 337.84,484.12 337.91,483.02 337.98,481.92 338.06,480.82 338.13,479.72 338.21,478.63 338.29,477.53 338.37,476.43 338.45,475.34 338.54,474.24 338.63,473.14 338.71,472.05 338.81,470.95 338.90,469.86 338.99,468.77 339.09,467.67 339.19,466.58 339.29,465.49 339.39,464.40 339.50,463.31 339.60,462.22 339.71,461.13 339.82,460.04 339.94,458.95 340.05,457.87 340.17,456.78 340.28,455.70 340.41,454.61 340.53,453.53 340.65,452.45 340.78,451.37 340.91,450.29 341.04,449.21 341.17,448.13 341.30,447.06 341.44,445.98 341.57,444.91 341.71,443.84 341.86,442.77 342.00,441.70 342.14,440.63 342.29,439.56 342.44,438.50 342.59,437.44 342.74,436.38 342.90,435.32 343.06,434.26 343.21,433.21 343.38,432.15 343.54,431.10 343.70,430.05 343.87,429.00 344.04,427.96 344.21,426.92 344.38,425.88 344.55,424.84 344.73,423.80 344.90,422.77 345.08,421.74 345.26,420.71 345.45,419.69 345.63,418.66 345.82,417.65 346.01,416.63 346.20,415.62 346.39,414.61 346.58,413.60 346.78,412.60 346.97,411.60 347.17,410.60 347.37,409.61 347.58,408.62 347.78,407.63 347.99,406.65 348.20,405.67 348.41,404.70 348.62,403.73 348.83,402.77 349.05,401.80 349.26,400.85 349.48,399.90 349.70,398.95 349.92,398.01 350.15,397.07 350.37,396.14 350.60,395.21 350.83,394.29 351.06,393.37 351.29,392.46 351.53,391.55 351.76,390.65 352.00,389.76 352.24,388.87 352.48,387.99 352.73,387.11 352.97,386.24 353.22,385.38 353.46,384.52 353.71,383.67 353.97,382.82 354.22,381.99 354.47,381.16 354.73,380.33 354.99,379.52 355.25,378.71 355.51,377.91 355.77,377.11 356.03,376.33 356.30,375.55 356.57,374.78 356.84,374.02 357.11,373.26 357.38,372.52 357.66,371.78 357.93,371.05 358.21,370.33 358.49,369.62 358.77,368.92 359.05,368.23 359.33,367.54 359.62,366.87 359.90,366.21 360.19,365.55 360.48,364.91 360.77,364.27 361.07,363.65 361.36,363.03 361.66,362.43 361.95,361.83 362.25,361.25 362.55,360.67 362.86,360.11 363.16,359.56 363.46,359.02 363.77,358.49 364.08,357.97 364.39,357.46 364.70,356.97 365.01,356.48 365.32,356.01 365.64,355.55 365.95,355.10 366.27,354.66 366.59,354.23 366.91,353.82 367.23,353.42 367.56,353.03 367.88,352.65 368.21,352.28 368.54,351.93 368.86,351.59 369.20,351.26 369.53,350.95 369.86,350.65 370.19,350.36 370.53,350.08 370.87,349.81 371.21,349.56 371.54,349.32 371.89,349.10 372.23,348.89 372.57,348.69 372.92,348.50 373.26,348.33 373.61,348.17 373.96,348.02 374.31,347.89 374.66,347.77 375.01,347.66 375.37,347.57 375.72,347.49 376.08,347.42 376.43,347.37 376.79,347.33 377.15,347.30 377.51,347.29 377.88,347.29 378.24,347.31 378.60,347.34 378.97,347.38 379.34,347.43 379.70,347.50 380.07,347.59 380.44,347.69 380.82,347.80 381.19,347.92 381.56,348.06 381.94,348.21 382.31,348.38 382.69,348.56 383.07,348.75 383.45,348.96 383.83,349.19 384.21,349.42 384.59,349.67 384.97,349.94 385.36,350.22 385.74,350.51 386.13,350.82 386.52,351.14 386.90,351.48 387.29,351.83 387.68,352.20 388.08,352.58 388.47,352.97 388.86,353.38 389.26,353.81 389.65,354.24 390.05,354.70 390.44,355.17 390.84,355.65 391.24,356.15 391.64,356.66 392.04,357.19 392.44,357.74 392.85,358.30 393.25,358.87 393.65,359.46 394.06,360.06 394.47,360.68 394.87,361.32 395.28,361.97 395.69,362.64 396.10,363.32 396.51,364.01 396.92,364.73 397.33,365.45 397.74,366.19 398.16,366.95 398.57,367.72 398.99,368.51 399.40,369.31 399.82,370.13 400.24,370.96 400.65,371.81 401.07,372.67 401.49,373.54 401.91,374.43 402.33,375.33 402.75,376.25 403.18,377.18 403.60,378.12 404.02,379.08 404.45,380.05 404.87,381.03 405.30,382.02 405.72,383.02 406.15,384.04 406.58,385.06 407.00,386.10 407.43,387.14 407.86,388.20 408.29,389.26 408.72,390.33 409.15,391.41 409.58,392.50 410.01,393.60 410.45,394.70 410.88,395.80 411.31,396.91 411.75,398.02 412.18,399.14 412.62,400.26 413.05,401.38 413.49,402.51 413.92,403.63 414.36,404.75 414.80,405.87 415.23,406.99 415.67,408.10 416.11,409.22 416.55,410.32 416.99,411.42 417.43,412.52 417.87,413.60 418.31,414.68 418.75,415.75 419.19,416.80 419.63,417.85 420.07,418.88 420.52,419.90 420.96,420.91 421.40,421.90 421.84,422.87 422.29,423.83 422.73,424.77 423.17,425.68 423.62,426.58 424.06,427.46 424.51,428.31 424.95,429.15 425.40,429.95 425.84,430.74 426.29,431.49 426.73,432.23 427.18,432.93 427.63,433.61 428.07,434.25 428.52,434.87 428.97,435.46 429.41,436.01 429.86,436.54 430.31,437.03 430.75,437.49 431.20,437.92 431.65,438.31 432.10,438.67 432.54,438.99 432.99,439.28 433.44,439.54 433.89,439.76 434.33,439.94 434.78,440.08 435.23,440.19 435.68,440.27 436.13,440.30 436.57,440.30 437.02,440.27 437.47,440.19 437.92,440.08 438.37,439.94 438.81,439.76 439.26,439.54 439.71,439.28 440.16,438.99 440.60,438.67 441.05,438.31 441.50,437.92 441.95,437.49 442.39,437.03 442.84,436.54 443.29,436.01 443.73,435.46 444.18,434.87 444.63,434.25 445.07,433.61 445.52,432.93 445.97,432.23 446.41,431.49 446.86,430.74 447.30,429.95 447.75,429.15 448.19,428.31 448.64,427.46 449.08,426.58 449.53,425.68 449.97,424.77 450.41,423.83 450.86,422.87 451.30,421.90 451.74,420.91 452.18,419.90 452.63,418.88 453.07,417.85 453.51,416.80 453.95,415.75 454.39,414.68 454.83,413.60 455.27,412.52 455.71,411.42 456.15,410.32 456.59,409.22 457.03,408.10 457.47,406.99 457.90,405.87 458.34,404.75 458.78,403.63 459.21,402.51 459.65,401.38 460.08,400.26 460.52,399.14 460.95,398.02 461.39,396.91 461.82,395.80 462.25,394.70 462.69,393.60 463.12,392.50 463.55,391.41 463.98,390.33 464.41,389.26 464.84,388.20 465.27,387.14 465.70,386.10 466.12,385.06 466.55,384.04 466.98,383.02 467.40,382.02 467.83,381.03 468.25,380.05 468.68,379.08 469.10,378.12 469.52,377.18 469.95,376.25 470.37,375.33 470.79,374.43 471.21,373.54 471.63,372.67 472.05,371.81 472.46,370.96 472.88,370.13 473.30,369.31 473.71,368.51 474.13,367.72 474.54,366.95 474.96,366.19 475.37,365.45 475.78,364.73 476.19,364.01 476.60,363.32 477.01,362.64 477.42,361.97 477.83,361.32 478.23,360.68 478.64,360.06 479.05,359.46 479.45,358.87 479.85,358.30 480.26,357.74 480.66,357.19 481.06,356.66 481.46,356.15 481.86,355.65 482.26,355.17 482.65,354.70 483.05,354.24 483.44,353.81 483.84,353.38 484.23,352.97 484.62,352.58 485.02,352.20 485.41,351.83 485.80,351.48 486.18,351.14 486.57,350.82 486.96,350.51 487.34,350.22 487.73,349.94 488.11,349.67 488.49,349.42 488.87,349.19 489.25,348.96 489.63,348.75 490.01,348.56 490.39,348.38 490.76,348.21 491.14,348.06 491.51,347.92 491.88,347.80 492.26,347.69 492.63,347.59 493.00,347.50 493.36,347.43 493.73,347.38 494.10,347.34 494.46,347.31 494.82,347.29 495.19,347.29 495.55,347.30 495.91,347.33 496.27,347.37 496.62,347.42 496.98,347.49 497.33,347.57 497.69,347.66 498.04,347.77 498.39,347.89 498.74,348.02 499.09,348.17 499.44,348.33 499.78,348.50 500.13,348.69 500.47,348.89 500.81,349.10 501.16,349.32 501.49,349.56 501.83,349.81 502.17,350.08 502.51,350.36 502.84,350.65 503.17,350.95 503.50,351.26 503.84,351.59 504.16,351.93 504.49,352.28 504.82,352.65 505.14,353.03 505.47,353.42 505.79,353.82 506.11,354.23 506.43,354.66 506.75,355.10 507.06,355.55 507.38,356.01 507.69,356.48 508.00,356.97 508.31,357.46 508.62,357.97 508.93,358.49 509.24,359.02 509.54,359.56 509.84,360.11 510.15,360.67 510.45,361.25 510.75,361.83 511.04,362.43 511.34,363.03 511.63,363.65 511.93,364.27 512.22,364.91 512.51,365.55 512.80,366.21 513.08,366.87 513.37,367.54 513.65,368.23 513.93,368.92 514.21,369.62 514.49,370.33 514.77,371.05 515.04,371.78 515.32,372.52 515.59,373.26 515.86,374.02 516.13,374.78 516.40,375.55 516.67,376.33 516.93,377.11 517.19,377.91 517.45,378.71 517.71,379.52 517.97,380.33 518.23,381.16 518.48,381.99 518.73,382.82 518.99,383.67 519.24,384.52 519.48,385.38 519.73,386.24 519.97,387.11 520.22,387.99 520.46,388.87 520.70,389.76 520.94,390.65 521.17,391.55 521.41,392.46 521.64,393.37 521.87,394.29 522.10,395.21 522.33,396.14 522.55,397.07 522.78,398.01 523.00,398.95 523.22,399.90 523.44,400.85 523.65,401.80 523.87,402.77 524.08,403.73 524.29,404.70 524.50,405.67 524.71,406.65 524.92,407.63 525.12,408.62 525.33,409.61 525.53,410.60 525.73,411.60 525.92,412.60 526.12,413.60 526.31,414.61 526.50,415.62 526.69,416.63 526.88,417.65 527.07,418.66 527.25,419.69 527.44,420.71 527.62,421.74 527.80,422.77 527.97,423.80 528.15,424.84 528.32,425.88 528.49,426.92 528.66,427.96 528.83,429.00 529.00,430.05 529.16,431.10 529.32,432.15 529.49,433.21 529.64,434.26 529.80,435.32 529.96,436.38 530.11,437.44 530.26,438.50 530.41,439.56 530.56,440.63 530.70,441.70 530.84,442.77 530.99,443.84 531.13,444.91 531.26,445.98 531.40,447.06 531.53,448.13 531.66,449.21 531.79,450.29 531.92,451.37 532.05,452.45 532.17,453.53 532.29,454.61 532.42,455.70 532.53,456.78 532.65,457.87 532.76,458.95 532.88,460.04 532.99,461.13 533.10,462.22 533.20,463.31 533.31,464.40 533.41,465.49 533.51,466.58 533.61,467.67 533.71,468.77 533.80,469.86 533.89,470.95 533.99,472.05 534.07,473.14 534.16,474.24 534.25,475.34 534.33,476.43 534.41,477.53 534.49,478.63 534.57,479.72 534.64,480.82 534.72,481.92 534.79,483.02 534.86,484.12 534.92,485.22 534.99,486.32 535.05,487.42 535.11,488.52 535.17,489.62 535.23,490.72 535.28,491.82 535.34,492.92 535.39,494.03 535.44,495.13 535.48,496.23 535.53,497.33 535.57,498.43 535.61,499.54 535.65,500.64 535.69,501.74 535.73,502.84 535.76,503.95 535.79,505.05 535.82,506.15 535.85,507.25 535.87,508.36 535.90,509.46 535.92,510.56 535.94,511.67 535.95,512.77 535.97,513.87 535.98,514.98 535.99,516.08 536.00,517.19 536.01,518.29 536.01,519.39 536.02,520.50 536.02,521.60" fill="none" stroke="#3f3d99" stroke-width="1.55" stroke-dasharray="9.26 2.19" stroke-linejoin="round"/>
<polyline points="336.68,521.60 336.68,520.32 336.69,519.05 336.69,517.77 336.70,516.50 336.71,515.22 336.72,513.94 336.73,512.67 336.75,511.39 336.76,510.12 336.78,508.84 336.80,507.57 336.83,506.29 336.85,505.02 336.88,503.74 336.91,502.46 336.94,501.19 336.97,499.91 337.01,498.64 337.05,497.37 337.09,496.09 337.13,494.82 337.17,493.54 337.22,492.27 337.26,490.99 337.31,489.72 337.36,488.45 337.42,487.17 337.47,485.90 337.53,484.63 337.59,483.36 337.65,482.08 337.71,480.81 337.78,479.54 337.84,478.27 337.91,477.00 337.98,475.73 338.06,474.46 338.13,473.19 338.21,471.92 338.29,470.65 338.37,469.38 338.45,468.12 338.54,466.85 338.63,465.58 338.71,464.32 338.81,463.05 338.90,461.79 338.99,460.52 339.09,459.26 339.19,458.00 339.29,456.74 339.39,455.48 339.50,454.22 339.60,452.96 339.71,451.70 339.82,450.44 339.94,449.19 340.05,447.93 340.17,446.68 340.28,445.43 340.41,444.17 340.53,442.92 340.65,441.68 340.78,440.43 340.91,439.18 341.04,437.94 341.17,436.69 341.30,435.45 341.44,434.21 341.57,432.97 341.71,431.74 341.86,430.50 342.00,429.27 342.14,428.04 342.29,426.81 342.44,425.58 342.59,424.36 342.74,423.14 342.90,421.92 343.06,420.70 343.21,419.48 343.38,418.27 343.54,417.06 343.70,415.85 343.87,414.64 344.04,413.44 344.21,412.24 344.38,411.04 344.55,409.85 344.73,408.66 344.90,407.47 345.08,406.29 345.26,405.11 345.45,403.93 345.63,402.76 345.82,401.59 346.01,400.42 346.20,399.26 346.39,398.10 346.58,396.95 346.78,395.79 346.97,394.65 347.17,393.51 347.37,392.37 347.58,391.24 347.78,390.11 347.99,388.99 348.20,387.87 348.41,386.75 348.62,385.65 348.83,384.54 349.05,383.45 349.26,382.35 349.48,381.27 349.70,380.19 349.92,379.11 350.15,378.04 350.37,376.98 350.60,375.93 350.83,374.87 351.06,373.83 351.29,372.79 351.53,371.76 351.76,370.74 352.00,369.72 352.24,368.71 352.48,367.71 352.73,366.72 352.97,365.73 353.22,364.75 353.46,363.78 353.71,362.82 353.97,361.86 354.22,360.91 354.47,359.97 354.73,359.04 354.99,358.12 355.25,357.21 355.51,356.30 355.77,355.41 356.03,354.52 356.30,353.64 356.57,352.77 356.84,351.92 357.11,351.07 357.38,350.23 357.66,349.40 357.93,348.58 358.21,347.77 358.49,346.97 358.77,346.19 359.05,345.41 359.33,344.64 359.62,343.89 359.90,343.14 360.19,342.41 360.48,341.69 360.77,340.98 361.07,340.28 361.36,339.59 361.66,338.92 361.95,338.25 362.25,337.60 362.55,336.96 362.86,336.33 363.16,335.72 363.46,335.11 363.77,334.52 364.08,333.94 364.39,333.38 364.70,332.83 365.01,332.29 365.32,331.76 365.64,331.25 365.95,330.75 366.27,330.26 366.59,329.79 366.91,329.33 367.23,328.88 367.56,328.45 367.88,328.03 368.21,327.62 368.54,327.23 368.86,326.86 369.20,326.49 369.53,326.14 369.86,325.81 370.19,325.49 370.53,325.18 370.87,324.89 371.21,324.61 371.54,324.35 371.89,324.10 372.23,323.86 372.57,323.64 372.92,323.44 373.26,323.25 373.61,323.07 373.96,322.91 374.31,322.77 374.66,322.64 375.01,322.52 375.37,322.42 375.72,322.33 376.08,322.26 376.43,322.21 376.79,322.17 377.15,322.14 377.51,322.13 377.88,322.14 378.24,322.16 378.60,322.20 378.97,322.25 379.34,322.32 379.70,322.40 380.07,322.50 380.44,322.61 380.82,322.74 381.19,322.89 381.56,323.05 381.94,323.23 382.31,323.42 382.69,323.63 383.07,323.85 383.45,324.10 383.83,324.35 384.21,324.63 384.59,324.92 384.97,325.23 385.36,325.55 385.74,325.89 386.13,326.24 386.52,326.62 386.90,327.01 387.29,327.41 387.68,327.84 388.08,328.28 388.47,328.73 388.86,329.21 389.26,329.70 389.65,330.21 390.05,330.73 390.44,331.28 390.84,331.84 391.24,332.41 391.64,333.01 392.04,333.62 392.44,334.25 392.85,334.90 393.25,335.56 393.65,336.25 394.06,336.95 394.47,337.67 394.87,338.40 395.28,339.16 395.69,339.93 396.10,340.72 396.51,341.52 396.92,342.35 397.33,343.19 397.74,344.05 398.16,344.92 398.57,345.82 398.99,346.73 399.40,347.65 399.82,348.60 400.24,349.56 400.65,350.54 401.07,351.53 401.49,352.54 401.91,353.56 402.33,354.61 402.75,355.66 403.18,356.73 403.60,357.82 404.02,358.92 404.45,360.03 404.87,361.16 405.30,362.30 405.72,363.46 406.15,364.62 406.58,365.80 407.00,366.99 407.43,368.19 407.86,369.40 408.29,370.61 408.72,371.84 409.15,373.08 409.58,374.32 410.01,375.57 410.45,376.83 410.88,378.09 411.31,379.36 411.75,380.63 412.18,381.90 412.62,383.17 413.05,384.45 413.49,385.73 413.92,387.00 414.36,388.28 414.80,389.55 415.23,390.82 415.67,392.09 416.11,393.35 416.55,394.60 416.99,395.85 417.43,397.08 417.87,398.31 418.31,399.53 418.75,400.74 419.19,401.93 419.63,403.11 420.07,404.28 420.52,405.43 420.96,406.56 421.40,407.68 421.84,408.77 422.29,409.85 422.73,410.90 423.17,411.94 423.62,412.95 424.06,413.93 424.51,414.89 424.95,415.83 425.40,416.73 425.84,417.61 426.29,418.46 426.73,419.28 427.18,420.07 427.63,420.83 428.07,421.55 428.52,422.25 428.97,422.90 429.41,423.53 429.86,424.12 430.31,424.67 430.75,425.18 431.20,425.66 431.65,426.10 432.10,426.50 432.54,426.86 432.99,427.19 433.44,427.47 433.89,427.71 434.33,427.92 434.78,428.08 435.23,428.20 435.68,428.28 436.13,428.32 436.57,428.32 437.02,428.28 437.47,428.20 437.92,428.08 438.37,427.92 438.81,427.71 439.26,427.47 439.71,427.19 440.16,426.86 440.60,426.50 441.05,426.10 441.50,425.66 441.95,425.18 442.39,424.67 442.84,424.12 443.29,423.53 443.73,422.90 444.18,422.25 444.63,421.55 445.07,420.83 445.52,420.07 445.97,419.28 446.41,418.46 446.86,417.61 447.30,416.73 447.75,415.83 448.19,414.89 448.64,413.93 449.08,412.95 449.53,411.94 449.97,410.90 450.41,409.85 450.86,408.77 451.30,407.68 451.74,406.56 452.18,405.43 452.63,404.28 453.07,403.11 453.51,401.93 453.95,400.74 454.39,399.53 454.83,398.31 455.27,397.08 455.71,395.85 456.15,394.60 456.59,393.35 457.03,392.09 457.47,390.82 457.90,389.55 458.34,388.28 458.78,387.00 459.21,385.73 459.65,384.45 460.08,383.17 460.52,381.90 460.95,380.63 461.39,379.36 461.82,378.09 462.25,376.83 462.69,375.57 463.12,374.32 463.55,373.08 463.98,371.84 464.41,370.61 464.84,369.40 465.27,368.19 465.70,366.99 466.12,365.80 466.55,364.62 466.98,363.46 467.40,362.30 467.83,361.16 468.25,360.03 468.68,358.92 469.10,357.82 469.52,356.73 469.95,355.66 470.37,354.61 470.79,353.56 471.21,352.54 471.63,351.53 472.05,350.54 472.46,349.56 472.88,348.60 473.30,347.65 473.71,346.73 474.13,345.82 474.54,344.92 474.96,344.05 475.37,343.19 475.78,342.35 476.19,341.52 476.60,340.72 477.01,339.93 477.42,339.16 477.83,338.40 478.23,337.67 478.64,336.95 479.05,336.25 479.45,335.56 479.85,334.90 480.26,334.25 480.66,333.62 481.06,333.01 481.46,332.41 481.86,331.84 482.26,331.28 482.65,330.73 483.05,330.21 483.44,329.70 483.84,329.21 484.23,328.73 484.62,328.28 485.02,327.84 485.41,327.41 485.80,327.01 486.18,326.62 486.57,326.24 486.96,325.89 487.34,325.55 487.73,325.23 488.11,324.92 488.49,324.63 488.87,324.35 489.25,324.10 489.63,323.85 490.01,323.63 490.39,323.42 490.76,323.23 491.14,323.05 491.51,322.89 491.88,322.74 492.26,322.61 492.63,322.50 493.00,322.40 493.36,322.32 493.73,322.25 494.10,322.20 494.46,322.16 494.82,322.14 495.19,322.13 495.55,322.14 495.91,322.17 496.27,322.21 496.62,322.26 496.98,322.33 497.33,322.42 497.69,322.52 498.04,322.64 498.39,322.77 498.74,322.91 499.09,323.07 499.44,323.25 499.78,323.44 500.13,323.64 500.47,323.86 500.81,324.10 501.16,324.35 501.49,324.61 501.83,324.89 502.17,325.18 502.51,325.49 502.84,325.81 503.17,326.14 503.50,326.49 503.84,326.86 504.16,327.23 504.49,327.62 504.82,328.03 505.14,328.45 505.47,328.88 505.79,329.33 506.11,329.79 506.43,330.26 506.75,330.75 507.06,331.25 507.38,331.76 507.69,332.29 508.00,332.83 508.31,333.38 508.62,333.94 508.93,334.52 509.24,335.11 509.54,335.72 509.84,336.33 510.15,336.96 510.45,337.60 510.75,338.25 511.04,338.92 511.34,339.59 511.63,340.28 511.93,340.98 512.22,341.69 512.51,342.41 512.80,343.14 513.08,343.89 513.37,344.64 513.65,345.41 513.93,346.19 514.21,346.97 514.49,347.77 514.77,348.58 515.04,349.40 515.32,350.23 515.59,351.07 515.86,351.92 516.13,352.77 516.40,353.64 516.67,354.52 516.93,355.41 517.19,356.30 517.45,357.21 517.71,358.12 517.97,359.04 518.23,359.97 518.48,360.91 518.73,361.86 518.99,362.82 519.24,363.78 519.48,364.75 519.73,365.73 519.97,366.72 520.22,367.71 520.46,368.71 520.70,369.72 520.94,370.74 521.17,371.76 521.41,372.79 521.64,373.83 521.87,374.87 522.10,375.93 522.33,376.98 522.55,378.04 522.78,379.11 523.00,380.19 523.22,381.27 523.44,382.35 523.65,383.45 523.87,384.54 524.08,385.65 524.29,386.75 524.50,387.87 524.71,388.99 524.92,390.11 525.12,391.24 525.33,392.37 525.53,393.51 525.73,394.65 525.92,395.79 526.12,396.95 526.31,398.10 526.50,399.26 526.69,400.42 526.88,401.59 527.07,402.76 527.25,403.93 527.44,405.11 527.62,406.29 527.80,407.47 527.97,408.66 528.15,409.85 528.32,411.04 528.49,412.24 528.66,413.44 528.83,414.64 529.00,415.85 529.16,417.06 529.32,418.27 529.49,419.48 529.64,420.70 529.80,421.92 529.96,423.14 530.11,424.36 530.26,425.58 530.41,426.81 530.56,428.04 530.70,429.27 530.84,430.50 530.99,431.74 531.13,432.97 531.26,434.21 531.40,435.45 531.53,436.69 531.66,437.94 531.79,439.18 531.92,440.43 532.05,441.68 532.17,442.92 532.29,444.17 532.42,445.43 532.53,446.68 532.65,447.93 532.76,449.19 532.88,450.44 532.99,451.70 533.10,452.96 533.20,454.22 533.31,455.48 533.41,456.74 533.51,458.00 533.61,459.26 533.71,460.52 533.80,461.79 533.89,463.05 533.99,464.32 534.07,465.58 534.16,466.85 534.25,468.12 534.33,469.38 534.41,470.65 534.49,471.92 534.57,473.19 534.64,474.46 534.72,475.73 534.79,477.00 534.86,478.27 534.92,479.54 534.99,480.81 535.05,482.08 535.11,483.36 535.17,484.63 535.23,485.90 535.28,487.17 535.34,488.45 535.39,489.72 535.44,490.99 535.48,492.27 535.53,493.54 535.57,494.82 535.61,496.09 535.65,497.37 535.69,498.64 535.73,499.91 535.76,501.19 535.79,502.46 535.82,503.74 535.85,505.02 535.87,506.29 535.90,507.57 535.92,508.84 535.94,510.12 535.95,511.39 535.97,512.67 535.98,513.94 535.99,515.22 536.00,516.50 536.01,517.77 536.01,519.05 536.02,520.32 536.02,521.60" fill="none" stroke="#993d71" stroke-width="1.55" stroke-linejoin="round"/>
<text x="318.00" y="425.15" font-size="12" text-anchor="middle">Δ</text>
<text x="436.35" y="553.90" font-size="11.5" text-anchor="middle" font-style="italic">γ</text>
<text x="436.35" y="570.30" font-size="13" text-anchor="middle"><tspan>(</tspan><tspan font-style="italic">d</tspan><tspan>)</tspan></text>
<text transform="translate(386.80,310.90) scale(1.28,1)" font-size="10.0" font-style="italic">σ</text><text transform="translate(394.20,310.80) scale(0.97,0.95)" font-size="10.7" fill="#333">=</text><text x="400.50" y="310.90" font-size="10.7">0.01,</text><text transform="translate(425.50,310.90) scale(1.32,1)" font-size="8.7" font-style="italic">ω</text><line x1="425.80" y1="304.35" x2="433.10" y2="304.35" stroke="#222" stroke-width="0.5"/><text transform="translate(433.30,310.80) scale(0.97,0.95)" font-size="10.7" fill="#333">=</text><text x="439.80" y="310.90" font-size="10.7">0.3,</text><text transform="translate(459.45,310.90) scale(1.2,1)" font-size="10.0" font-style="italic">α</text><text transform="translate(466.85,310.80) scale(0.97,0.95)" font-size="10.7" fill="#333">=</text><text x="473.15" y="310.90" font-size="10.7">0.1</text>
</svg>
</body></html>
